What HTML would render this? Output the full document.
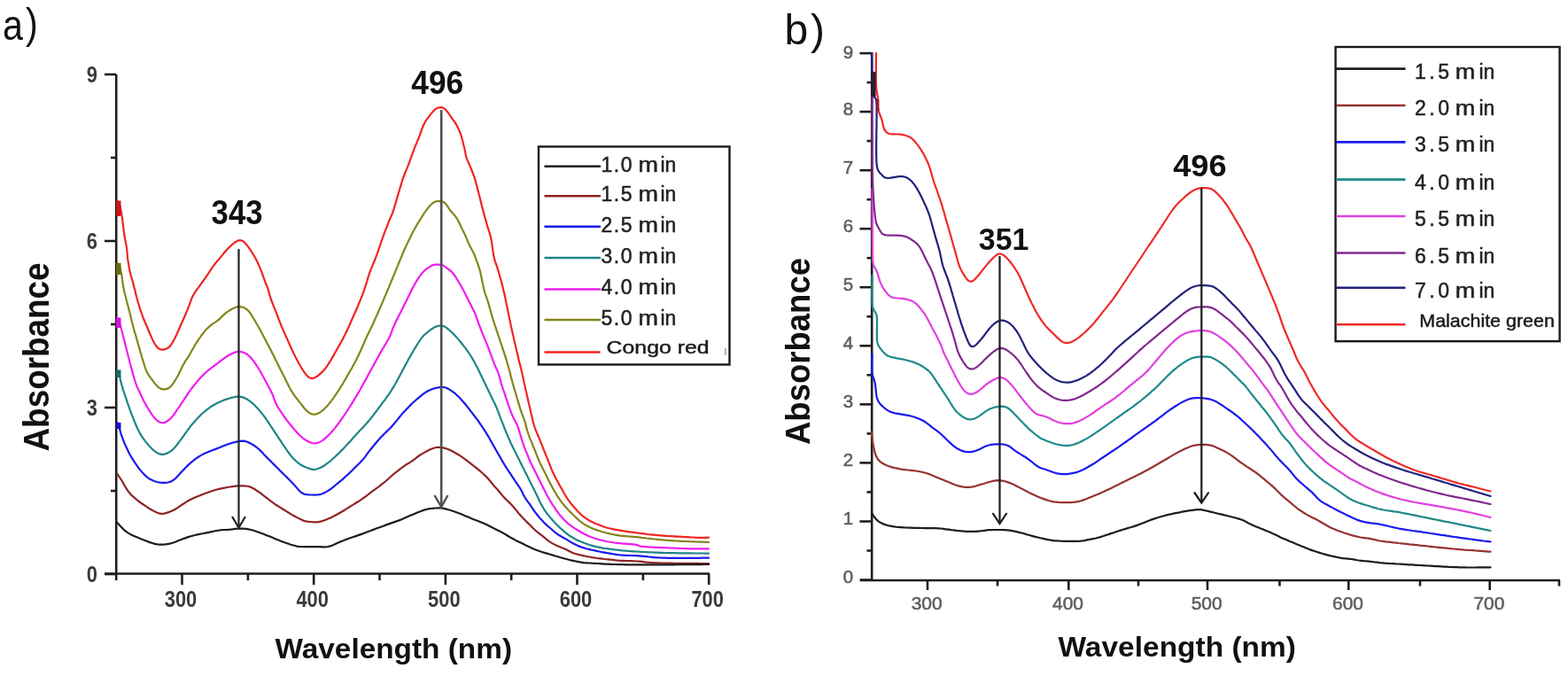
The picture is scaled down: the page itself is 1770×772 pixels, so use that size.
<!DOCTYPE html><html><head><meta charset="utf-8"><title>Absorbance spectra</title><style>
html,body{margin:0;padding:0;background:#fff;}body{width:1770px;height:772px;overflow:hidden;}svg{display:block;}
text{font-family:"Liberation Sans",Arial,sans-serif;}
</style></head><body>
<svg width="1770" height="772" viewBox="0 0 1770 772">
<rect width="1770" height="772" fill="#fff"/>
<text transform="translate(0 44.5) scale(0.86 1)" font-size="48" fill="#111"><tspan x="3.6">a</tspan><tspan x="33.8" dy="-1.5">)</tspan></text>
<g stroke="#1e1e1e" stroke-width="2.6" fill="none">
<path d="M131.2 84 V647.5"/>
<path d="M118 647.5 H801"/>
<path d="M118 648 H131.2"/>
<path d="M118 460 H131.2"/>
<path d="M118 272 H131.2"/>
<path d="M118 84 H131.2"/>
<path d="M125 554 H131.2"/>
<path d="M125 366 H131.2"/>
<path d="M125 178 H131.2"/>
<path d="M205.5 647.5 V660"/>
<path d="M354.2 647.5 V660"/>
<path d="M502.9 647.5 V660"/>
<path d="M651.5 647.5 V660"/>
<path d="M800.2 647.5 V660"/>
<path d="M131.2 647.5 V655"/>
<path d="M279.9 647.5 V655"/>
<path d="M428.5 647.5 V655"/>
<path d="M577.2 647.5 V655"/>
<path d="M725.9 647.5 V655"/>
</g>
<g font-size="25.5" font-weight="bold" fill="#3a3a3a">
<text transform="translate(110 656.8) scale(0.86 1)" text-anchor="end">0</text>
<text transform="translate(110 468.8) scale(0.86 1)" text-anchor="end">3</text>
<text transform="translate(110 280.8) scale(0.86 1)" text-anchor="end">6</text>
<text transform="translate(110 92.8) scale(0.86 1)" text-anchor="end">9</text>
<text transform="translate(204 684.5) scale(0.86 1)" text-anchor="middle">300</text>
<text transform="translate(352.7 684.5) scale(0.86 1)" text-anchor="middle">400</text>
<text transform="translate(501.4 684.5) scale(0.86 1)" text-anchor="middle">500</text>
<text transform="translate(650 684.5) scale(0.86 1)" text-anchor="middle">600</text>
<text transform="translate(798.7 684.5) scale(0.86 1)" text-anchor="middle">700</text>
</g>
<text transform="translate(55.2 509.5) rotate(-90)" font-size="40.5" font-weight="bold" fill="#111" textLength="213" lengthAdjust="spacingAndGlyphs">Absorbance</text>
<text x="310.5" y="742.5" font-size="30.5" font-weight="bold" fill="#111" textLength="267.5" lengthAdjust="spacingAndGlyphs">Wavelength (nm)</text>
<g fill="none" stroke-width="2.2" stroke-linejoin="round" stroke-linecap="round">
<path stroke="#8e2424" d="M132.5 535L134.2 537.5 135.9 540 137.5 542.5 139 545.1 140.5 547.7 142 550.3 143.6 552.8 145.3 555.3 147.2 557.6 149.3 559.7 151.6 561.7 153.9 563.6 156.2 565.5 158.7 567.3 161.1 569 163.6 570.7 166.1 572.4 168.6 574 171.2 575.5 173.8 576.9 176.5 578.3 179.3 579.3 182.2 579.8 185.2 579.6 188.1 578.9 190.9 577.9 193.7 576.8 196.4 575.5 199 574 201.5 572.4 204 570.7 206.5 569 209 567.4 211.5 565.7 214.1 564.3 216.8 562.9 219.5 561.7 222.3 560.5 225.1 559.4 227.9 558.3 230.7 557.2 233.5 556.2 236.3 555.2 239.2 554.2 242 553.3 244.9 552.5 247.8 551.8 250.8 551.2 253.7 550.6 256.7 550 259.6 549.5 262.6 549.1 265.6 548.7 268.6 548.4 271.6 548.3 274.6 548.3 277.5 548.5 280.5 549 283.3 549.9 286 551.2 288.5 552.8 291 554.5 293.5 556.2 295.9 558 298.2 559.9 300.6 561.7 303 563.5 305.4 565.4 307.8 567.2 310.2 568.9 312.8 570.5 315.3 572.1 317.9 573.7 320.4 575.3 323 576.9 325.5 578.5 328 580.1 330.6 581.6 333.3 583 335.9 584.4 338.6 585.8 341.3 587.1 344.1 588.1 347 588.7 350 589 353 589.2 356 589.3 359 589.2 361.9 588.6 364.8 587.8 367.6 586.7 370.4 585.6 373.1 584.4 375.8 583.1 378.5 581.7 381.1 580.3 383.8 578.8 386.3 577.3 388.9 575.7 391.4 574.1 394 572.5 396.5 570.9 399.1 569.4 401.6 567.8 404.2 566.2 406.7 564.6 409.2 562.9 411.6 561.2 414 559.4 416.4 557.5 418.8 555.7 421.2 553.9 423.6 552.1 426 550.3 428.5 548.6 430.8 546.7 433.2 544.9 435.5 543 437.7 541 440 539 442.2 537 444.5 535 446.8 533.1 449.2 531.3 451.6 529.4 454 527.7 456.4 525.9 458.9 524.2 461.5 522.6 464 521.1 466.5 519.4 468.9 517.6 471.2 515.7 473.6 514 476.2 512.4 478.8 510.9 481.4 509.4 484.1 508.1 486.8 506.8 489.6 505.7 492.5 505 495.5 504.8 498.5 505 501.4 505.6 504.2 506.5 507 507.6 509.7 508.8 512.4 510.3 515 511.8 517.6 513.3 520.1 514.9 522.6 516.6 525 518.3 527.4 520.1 529.8 522 532.2 523.8 534.5 525.6 536.9 527.5 539.3 529.3 541.6 531.3 543.8 533.3 546 535.3 548.2 537.4 550.3 539.5 552.3 541.7 554.2 544 556.1 546.4 557.9 548.7 559.7 550.5 561.5 552.4 563.4 554.7 565.3 557 567.2 559.4 569.2 561.6 571.3 563.7 573.5 565.8 575.6 567.9 577.7 570 579.7 572.3 581.6 574.6 583.5 576.9 585.4 579.2 587.4 581.5 589.4 583.8 591.5 585.9 593.6 588 595.7 590.1 597.9 592.3 600 594.4 602.1 596.5 604.3 598.5 606.6 600.5 609 602.3 611.3 604.2 613.7 606 616 607.9 618.3 609.8 620.8 611.6 623.3 613.1 626 614.6 628.7 615.9 631.4 617.1 634.2 618.2 637 619.3 639.7 620.5 642.4 621.9 645 623.3 647.8 624.5 650.6 625.3 653.5 626.1 656.5 626.7 659.4 627.4 662.3 628 665.3 628.5 668.2 629.1 671.2 629.5 674.2 630 677.2 630.3 680.1 630.6 683.1 631 686.1 631.3 689.1 631.6 692.1 631.9 695.1 632.3 698.1 632.6 701 632.8 704 632.9 707 633 710 633.1 713 633.2 716 633.3 719 633.5 722 633.7 725 633.9 728 634.3 731 634.6 734 634.9 737 635.1 740 635.3 743 635.4 746 635.5 749 635.6 752 635.7 755 635.7 758 635.7 761 635.8 764 635.8 767 635.8 770 635.8 773 635.9 776 635.9 779 635.9 782 635.9 785 635.9 788 635.9 791 636 794 636 797 636 800 636"/>
<path stroke="#1c1c1c" d="M131.5 589L133.6 591.2 135.6 593.4 137.6 595.6 139.7 597.8 142 599.7 144.4 601.4 147 602.9 149.7 604.2 152.5 605.4 155.2 606.6 158 607.8 160.8 608.9 163.6 610 166.4 611.1 169.2 612.1 172 613 174.9 613.9 177.9 614.5 180.8 614.7 183.8 614.6 186.8 614.3 189.8 613.9 192.7 613.3 195.6 612.5 198.4 611.5 201.2 610.3 204 609.2 206.8 608.1 209.6 607.1 212.4 606.1 215.3 605.3 218.2 604.5 221.1 603.8 224.1 603.1 227 602.5 230 602 232.9 601.4 235.8 600.8 238.8 600.2 241.7 599.5 244.7 599 247.6 598.5 250.6 598.2 253.6 598 256.6 597.9 259.6 597.7 262.6 597.4 265.5 596.9 268.5 596.6 271.5 596.5 274.5 596.7 277.5 596.9 280.5 597.4 283.4 598 286.3 598.8 289.1 599.7 292 600.7 294.8 601.8 297.6 602.8 300.4 603.9 303.2 605 306 606.1 308.8 607.2 311.5 608.4 314.3 609.5 317.1 610.7 319.9 611.8 322.7 612.8 325.6 613.8 328.4 614.7 331.3 615.5 334.2 616.3 337.1 616.8 340.1 617 343.1 617.1 346.1 617.2 349.1 617.2 352.1 617.2 355.1 617.2 358.1 617.2 361.1 617.2 364.1 617.3 367.1 617.3 370.1 617 373 616.4 375.8 615.3 378.5 614.1 381.3 612.8 384 611.6 386.8 610.4 389.6 609.3 392.4 608.2 395.2 607.2 398.1 606.3 400.9 605.4 403.8 604.4 406.6 603.4 409.4 602.4 412.2 601.3 415 600.2 417.8 599.2 420.6 598.1 423.4 597.1 426.2 596 429.1 595 431.9 594 434.7 592.9 437.5 591.9 440.4 590.9 443.2 589.9 446 588.9 448.9 587.9 451.7 586.9 454.4 585.7 457.2 584.5 459.9 583.3 462.7 582.1 465.4 580.9 468.2 579.8 471 578.6 473.8 577.5 476.6 576.4 479.4 575.4 482.3 574.7 485.2 574.1 488.2 573.8 491.2 573.5 494.2 573.3 497.2 573.4 500.2 573.7 503.1 574.4 506 575.2 508.9 576 511.7 577 514.6 578 517.4 579 520.2 580.1 522.9 581.2 525.7 582.4 528.5 583.6 531.2 584.8 534 585.9 536.8 587 539.6 588.1 542.4 589.2 545.2 590.3 547.9 591.5 550.6 592.8 553.3 594.2 556 595.6 558.7 596.9 561.3 598.2 564 599.6 566.7 601 569.3 602.4 571.9 604 574.4 605.5 577 607.1 579.7 608.5 582.3 609.9 585 611.2 587.7 612.5 590.4 613.8 593.1 615.2 595.8 616.5 598.5 617.8 601.2 619.1 604 620.2 606.8 621.3 609.6 622.3 612.5 623.2 615.4 624.1 618.2 624.9 621.1 625.8 624 626.6 626.9 627.5 629.8 628.3 632.6 629.2 635.5 630 638.4 630.8 641.3 631.5 644.2 632.3 647.2 632.9 650.1 633.5 653.1 634.1 656 634.6 659 635.1 662 635.3 665 635.5 668 635.7 671 635.8 674 636 676.9 636.2 679.9 636.4 682.9 636.6 685.9 636.7 688.9 636.8 691.9 636.9 694.9 637 697.9 637.1 700.9 637.2 703.9 637.2 706.9 637.3 709.9 637.3 712.9 637.4 715.9 637.4 719 637.4 722 637.4 725 637.4 728 637.4 731 637.4 734 637.4 737 637.4 740 637.4 743 637.4 746 637.3 749 637.3 752 637.3 755 637.3 758 637.3 761 637.3 764 637.2 767 637.2 770 637.2 773 637.2 776 637.2 779 637.1 782 637.1 785 637.1 788 637.1 791 637.1 794 637 797 637 800 637"/>
<path stroke="#1a1aee" d="M132.5 477L133.8 479.7 134.7 482.5 135.4 485.4 136.2 488.3 137.1 491.2 138.1 494 139.2 496.8 140.3 499.6 141.5 502.4 142.7 505.1 144 507.8 145.3 510.5 146.7 513.2 148.2 515.8 149.8 518.3 151.4 520.8 153.1 523.3 154.8 525.8 156.5 528.2 158.4 530.6 160.4 532.9 162.4 535 164.5 537.1 166.8 539.1 169.3 540.8 172 542.1 174.8 543.2 177.7 544 180.6 544.6 183.6 544.9 186.6 544.9 189.5 544.5 192.4 543.7 195 542.3 197.4 540.6 199.6 538.5 201.6 536.3 203.6 534 205.7 531.8 207.7 529.7 209.8 527.5 211.9 525.4 214.1 523.3 216.4 521.4 218.7 519.5 221.1 517.7 223.6 516 226.1 514.4 228.7 512.9 231.4 511.6 234.2 510.4 236.9 509.2 239.7 508.2 242.6 507.1 245.4 506.1 248.2 505 250.9 503.8 253.7 502.7 256.5 501.6 259.4 500.7 262.2 499.8 265.1 499.1 268.1 498.4 271 497.8 274 497.6 276.9 497.9 279.7 499 282.4 500.3 285 501.7 287.5 503.3 290 505.1 292.3 507 294.4 509.1 296.5 511.3 298.5 513.5 300.6 515.6 302.7 517.7 304.9 519.9 307 522 309.1 524.1 311.2 526.2 313.3 528.3 315.5 530.5 317.6 532.6 319.7 534.7 321.8 536.8 324 538.9 326.1 541 328.2 543.2 330.3 545.3 332.3 547.6 334.3 549.8 336.3 552.1 338.3 554.3 340.5 556.3 343.1 557.6 346 558.2 349 558.4 352 558.5 355 558.6 358 558.5 360.9 558.2 363.8 557.3 366.5 556.1 369.1 554.6 371.6 553 374.1 551.3 376.5 549.4 378.8 547.5 381.1 545.6 383.4 543.7 385.7 541.8 388 539.8 390.2 537.8 392.5 535.8 394.6 533.7 396.8 531.6 398.9 529.5 401 527.4 403.2 525.3 405.3 523.2 407.4 521.1 409.5 518.9 411.4 516.6 413.2 514.2 414.9 511.7 416.7 509.3 418.6 507 420.5 504.7 422.4 502.3 424.3 500 426.2 497.7 428.2 495.5 430.2 493.2 432.3 491.1 434.5 489 436.6 486.9 438.8 484.8 440.9 482.7 442.9 480.5 444.9 478.2 446.8 475.9 448.7 473.6 450.6 471.2 452.5 468.9 454.4 466.6 456.4 464.4 458.5 462.2 460.6 460.1 462.7 457.9 464.8 455.8 467 453.8 469.2 451.8 471.5 449.8 473.8 447.9 476.1 446 478.5 444.2 481 442.5 483.6 441 486.3 439.8 489.2 438.8 492 437.9 495 437.3 497.9 436.9 500.9 437 503.7 437.8 506.4 439.1 509 440.6 511.5 442.3 513.8 444.2 516 446.2 518.2 448.3 520.2 450.5 522.2 452.7 524.2 455 526.1 457.3 528 459.6 529.8 462 531.6 464.4 533.5 466.8 535.3 469.2 537.1 471.5 538.9 473.9 540.7 476.4 542.4 478.8 544.1 481.3 545.8 483.8 547.4 486.3 549 488.9 550.5 491.4 552.1 494 553.5 496.6 555 499.2 556.5 501.9 558 504.5 559.4 507.1 560.9 509.7 562.4 512.3 563.9 514.9 565.4 517.5 566.9 520.1 568.4 522.7 569.9 525.3 571.6 527.8 573.2 530.3 574.9 532.8 576.6 535.3 578.2 537.8 579.9 540.3 581.5 542.8 583.2 545.3 584.9 547.8 586.6 550.2 588.1 552.8 589.5 555.5 590.7 558.2 592.2 560.8 593.8 563.3 595.5 565.8 597.3 568.2 599 570.7 600.7 573.2 602.4 575.6 604.1 578.1 606 580.5 607.8 582.8 609.8 585.1 611.8 587.3 613.8 589.5 616 591.6 618.2 593.6 620.5 595.5 622.8 597.5 625 599.5 627.3 601.4 629.7 603.2 632.3 604.8 634.9 606.3 637.5 607.7 640.1 609.1 642.7 610.8 645.2 612.4 647.8 613.8 650.5 615.1 653.3 616.4 656 617.4 658.9 618.4 661.8 619.2 664.7 619.9 667.6 620.6 670.6 621.2 673.5 621.9 676.4 622.5 679.4 623.1 682.3 623.6 685.3 624.2 688.2 624.7 691.2 625.2 694.1 625.6 697.1 626.1 700.1 626.4 703.1 626.6 706.1 626.8 709.1 626.9 712.1 627 715.1 627.1 718.1 627.2 721.1 627.4 724.1 627.6 727.1 627.9 730 628.2 733 628.5 736 628.8 739 629.1 742 629.3 745 629.5 748 629.6 751 629.7 754 629.8 757 629.8 760 629.9 763 629.9 766 629.9 769 629.9 772 629.9 775 629.9 778 629.8 781 629.8 784 629.8 787 629.8 790 629.8 793 629.7 796 629.7 799 629.7 800 629.7"/>
<path stroke="#1f8585" d="M132.5 418L133.9 420.3 134.7 423.2 135.4 426.1 136 429 136.7 431.9 137.5 434.8 138.3 437.7 139.2 440.6 140.2 443.4 141.1 446.3 142.1 449.1 143.1 451.9 144 454.8 145 457.6 146 460.4 147 463.3 148.1 466.1 149.1 468.9 150.2 471.7 151.3 474.5 152.4 477.3 153.6 480 154.8 482.8 156.1 485.5 157.5 488.1 159 490.7 160.6 493.3 162.3 495.7 164.1 498.1 166 500.4 167.9 502.7 170 504.9 172.1 507.1 174.3 509 176.8 510.7 179.4 512.1 182.3 512.9 185.2 512.8 188 511.9 190.7 510.6 193.2 508.9 195.4 507 197.5 504.8 199.4 502.5 201.2 500.1 203 497.7 204.8 495.3 206.6 492.9 208.3 490.4 210.1 488 211.8 485.5 213.6 483.1 215.4 480.7 217.3 478.4 219.3 476.2 221.3 473.9 223.3 471.7 225.4 469.6 227.6 467.5 229.8 465.5 232.1 463.6 234.5 461.7 236.9 459.9 239.4 458.2 241.9 456.7 244.6 455.3 247.3 453.9 250 452.7 252.8 451.6 255.6 450.6 258.5 449.7 261.4 448.9 264.3 448.2 267.2 447.7 270.2 447.6 273.1 448.1 275.9 449.1 278.6 450.5 281.1 452.1 283.5 453.9 285.8 455.8 287.9 457.9 290 460.1 292 462.3 294 464.6 295.8 466.9 297.7 469.3 299.4 471.7 301.2 474.2 302.9 476.7 304.5 479.2 306.2 481.7 307.8 484.2 309.5 486.7 311.1 489.2 312.8 491.7 314.4 494.2 316.1 496.7 317.7 499.2 319.4 501.7 321.1 504.1 322.8 506.6 324.5 509.1 326.3 511.5 328.1 513.9 330 516.2 332 518.4 334.2 520.5 336.5 522.5 338.9 524.2 341.5 525.7 344.2 527 347 528.1 349.8 529.1 352.6 529.9 355.2 530 358 529.3 360.8 528.3 363.5 527 366.1 525.5 368.5 523.7 370.9 521.9 373.2 520 375.5 518 377.7 516 379.9 513.9 382.1 511.9 384.2 509.7 386.3 507.6 388.4 505.4 390.4 503.3 392.5 501.1 394.5 498.9 396.5 496.7 398.5 494.4 400.5 492.2 402.5 490 404.6 487.8 406.6 485.6 408.7 483.4 410.7 481.2 412.8 479 414.8 476.7 416.7 474.5 418.6 472.1 420.5 469.8 422.3 467.4 424.1 465 425.9 462.6 427.7 460.2 429.5 457.8 431.2 455.4 433.1 453 434.9 450.6 436.6 448.2 438.4 445.7 440.1 443.3 441.7 440.8 443.3 438.2 444.9 435.6 446.4 433 447.8 430.4 449.2 427.8 450.7 425.1 452.1 422.5 453.5 419.8 454.9 417.2 456.3 414.6 457.8 411.9 459.2 409.3 460.6 406.6 462 404 463.5 401.4 465 398.8 466.5 396.2 468 393.6 469.6 391 471.2 388.5 472.8 386 474.5 383.5 476.2 381.1 478.2 378.8 480.4 376.8 482.7 374.8 485 373 487.5 371.2 490 369.6 492.7 368.4 495.6 367.7 498.6 367.7 501.4 368.4 504 369.9 506.3 371.8 508.5 373.8 510.7 375.8 512.8 378 514.9 380.1 516.9 382.4 518.8 384.6 520.7 387 522.6 389.3 524.4 391.7 526.2 394.1 528 396.5 529.7 399 531.3 401.5 532.9 404.1 534.4 406.7 535.8 409.3 537.2 411.9 538.6 414.6 540 417.3 541.3 420 542.6 422.7 543.9 425.4 545.2 428.1 546.5 430.8 547.8 433.5 549.1 436.2 550.4 438.9 551.7 441.6 553 444.3 554.3 447 555.6 449.7 556.9 452.4 558.3 455.1 559.5 457.8 560.7 460.6 561.8 463.4 562.9 466.2 564 469 565 471.8 566.1 474.6 567.2 477.4 568.3 480.2 569.4 483 570.5 485.7 571.6 488.5 572.8 491.3 573.9 494 575.2 496.8 576.4 499.5 577.7 502.2 579 504.9 580.3 507.6 581.7 510.3 583 513 584.4 515.7 585.7 518.3 587 521 588.4 523.7 589.7 526.4 591.1 529.1 592.4 531.8 593.8 534.4 595.1 537.1 596.4 539.8 597.8 542.5 599.1 545.2 600.5 547.9 601.8 550.5 603.2 553.2 604.5 555.9 605.8 558.6 607.1 561.3 608.3 564.1 609.6 566.8 611 569.4 612.5 572 614 574.6 615.7 577.1 617.4 579.5 619.3 581.9 621.2 584.2 623.2 586.5 625.2 588.7 627.2 590.9 629.4 593 631.5 595.1 633.7 597.1 636 599.1 638.2 601.1 640.6 602.9 643 604.7 645.6 606.3 648.2 607.8 650.8 609.2 653.5 610.5 656.3 611.6 659.1 612.7 661.9 613.8 664.7 614.7 667.6 615.6 670.5 616.4 673.4 617.1 676.3 617.7 679.3 618.3 682.2 618.8 685.2 619.2 688.2 619.6 691.2 620 694.1 620.4 697.1 620.7 700.1 621.1 703.1 621.4 706.1 621.6 709.1 621.9 712 622.1 715 622.3 718 622.5 721 622.7 724 622.8 727 623 730 623.1 733 623.3 736 623.4 739 623.6 742 623.7 745 623.8 748 623.9 751 624 754 624.1 757 624.1 760 624.2 763 624.2 766 624.3 769 624.3 772 624.3 775 624.4 778 624.4 781 624.4 784 624.5 787 624.5 790 624.5 793 624.5 796 624.6 799 624.6 800 624.6"/>
<path stroke="#f01cf0" d="M132.5 359L134 361.5 135 364.3 135.8 367.2 136.6 370.1 137.4 373 138.2 375.9 138.9 378.8 139.7 381.7 140.4 384.6 141.1 387.5 141.8 390.4 142.6 393.4 143.3 396.3 144 399.2 144.8 402.1 145.5 405 146.3 407.9 147 410.8 147.8 413.7 148.6 416.6 149.4 419.5 150.1 422.4 151 425.3 151.8 428.2 152.7 431 153.7 433.9 154.8 436.7 156 439.4 157.3 442.1 158.6 444.8 159.8 447.5 161.2 450.2 162.5 452.9 163.9 455.6 165.4 458.2 166.9 460.7 168.5 463.3 170.1 465.8 171.8 468.3 173.6 470.7 175.6 473 177.8 475 180.3 476.5 183.1 477.2 186 476.8 188.6 475.5 191 473.7 193.2 471.7 195.2 469.4 196.9 467 198.6 464.5 200.3 462 202 459.6 203.7 457.1 205.3 454.6 207 452.1 208.6 449.6 210.3 447.1 211.9 444.6 213.6 442.1 215.3 439.6 217.2 437.2 219.1 434.9 221 432.6 222.9 430.3 224.9 428.1 226.9 425.8 229 423.6 231.1 421.5 233.3 419.5 235.6 417.6 238 415.7 240.4 413.9 242.8 412.1 245.2 410.4 247.6 408.5 250 406.7 252.4 404.9 254.8 403.2 257.3 401.5 259.9 400 262.6 398.8 265.4 397.6 268.3 397 271.2 397 274.2 397.6 276.9 398.7 279.5 400.2 281.7 402.2 283.7 404.4 285.6 406.7 287.4 409.2 289.1 411.6 290.7 414.2 292.3 416.7 293.8 419.3 295.3 421.9 296.8 424.5 298.2 427.2 299.6 429.8 301.1 432.4 302.5 435.1 303.9 437.7 305.3 440.4 306.6 443.1 307.8 445.8 308.9 448.6 309.9 451.4 311 454.2 312.3 457 313.7 459.6 315.3 462.1 317 464.6 318.7 467.1 320.4 469.6 322.1 472 323.9 474.4 325.7 476.8 327.6 479.2 329.5 481.5 331.4 483.8 333.4 486 335.4 488.3 337.4 490.5 339.6 492.5 341.9 494.5 344.3 496.2 346.9 497.7 349.6 499.1 352.4 500 355.3 500.4 358.3 500 361 498.9 363.6 497.4 366 495.6 368.3 493.6 370.5 491.6 372.6 489.4 374.6 487.2 376.6 484.9 378.5 482.6 380.3 480.3 382.1 477.9 383.9 475.4 385.6 473 387.3 470.5 389 468 390.7 465.5 392.3 463 394 460.5 395.6 458 397.2 455.4 398.7 452.9 400.3 450.3 401.8 447.8 403.4 445.2 404.9 442.6 406.4 440 407.8 437.4 409.3 434.7 410.8 432.1 412.2 429.5 413.7 426.9 415.1 424.2 416.5 421.6 418 419 419.4 416.3 420.9 413.7 422.3 411.1 423.8 408.4 425.2 405.8 426.7 403.2 428.1 400.6 429.6 397.9 431.1 395.3 432.6 392.8 434.1 390.2 435.7 387.6 437.2 385 438.6 382.4 440 379.7 441.2 377 442.2 374.1 443.2 371.3 444.4 368.5 445.6 365.8 446.9 363.1 448.2 360.4 449.5 357.7 450.9 355 452.3 352.4 453.6 349.7 455 347 456.3 344.3 457.7 341.6 459 339 460.3 336.3 461.6 333.6 462.9 330.9 464.2 328.2 465.6 325.5 467 322.9 468.5 320.2 470 317.6 471.6 315.1 473.2 312.6 475 310.1 476.9 307.8 478.9 305.7 481.2 303.7 483.7 302 486.2 300.4 488.9 299.1 491.7 298.6 494.7 298.7 497.7 298.8 500.4 299.6 502.8 301.3 505.2 303.1 507.6 304.9 509.9 306.9 511.9 309.1 513.6 311.5 515.2 314 516.8 316.6 518.3 319.2 519.8 321.8 521.3 324.4 522.8 327 524.2 329.7 525.5 332.3 526.8 335 528.2 337.7 529.5 340.4 530.9 343.1 532.3 345.7 533.6 348.4 535 351.1 536.2 353.8 537.3 356.6 538.3 359.4 539.3 362.3 540.3 365.1 541.4 367.9 542.4 370.7 543.5 373.5 544.5 376.3 545.7 379.1 546.9 381.9 548.1 384.6 549.3 387.4 550.4 390.2 551.4 393 552.5 395.8 553.5 398.6 554.5 401.4 555.6 404.2 556.6 407.1 557.7 409.9 558.8 412.6 560 415.4 561.3 418.1 562.4 420.9 563.3 423.7 564.1 426.6 564.9 429.5 565.7 432.4 566.6 435.3 567.5 438.1 568.5 441 569.5 443.8 570.4 446.6 571.4 449.5 572.3 452.3 573.3 455.2 574.2 458 575.2 460.9 576.3 463.7 577.4 466.5 578.5 469.2 579.8 472 581.2 474.6 582.6 477.2 584 479.9 585 482.7 585.9 485.6 586.7 488.5 587.6 491.3 588.4 494.2 589.3 497.1 590.2 500 591.2 502.8 592.3 505.6 593.4 508.4 594.5 511.1 595.6 513.9 596.7 516.7 597.9 519.5 599.1 522.2 600.4 525 601.7 527.6 603.1 530.3 604.4 533 605.8 535.7 607.1 538.4 608.4 541 609.8 543.7 611.1 546.4 612.5 549.1 613.8 551.8 615.2 554.5 616.5 557.1 617.9 559.8 619.4 562.4 620.9 565 622.5 567.6 624.1 570.1 625.8 572.6 627.4 575.1 629.2 577.5 630.9 579.9 632.8 582.3 634.8 584.5 636.9 586.7 639 588.8 641.2 590.8 643.6 592.7 646 594.4 648.5 596.1 651.1 597.7 653.6 599.2 656.2 600.8 658.8 602.3 661.5 603.6 664.2 604.9 667 606 669.8 607 672.7 608 675.5 608.8 678.4 609.6 681.3 610.3 684.3 611 687.2 611.5 690.2 612 693.1 612.5 696.1 612.8 699.1 613.1 702.1 613.4 705.1 613.6 708.1 613.9 711.1 614.1 714.1 614.3 717 614.6 719.5 615.1 720.9 616 723.1 616.7 726 616.9 729 617.1 732 617.3 735 617.5 738 617.6 741 617.8 744 617.9 747 618.1 750 618.2 753 618.3 756 618.5 759 618.6 762 618.7 765 618.8 768 619 771 619.1 774 619.2 777 619.3 780 619.3 783 619.4 786 619.4 789 619.4 792 619.4 795 619.4 798 619.4 800 619.4"/>
<path stroke="#85851c" d="M132.5 297L134.3 299.3 135.5 302 136.2 304.9 136.8 307.8 137.4 310.8 137.8 313.7 138.2 316.7 138.6 319.7 139.1 322.7 139.6 325.6 140.2 328.5 140.9 331.5 141.7 334.4 142.4 337.3 143.2 340.2 143.9 343.1 144.7 346 145.4 348.9 146.2 351.8 146.9 354.7 147.6 357.6 148.3 360.5 149 363.5 149.8 366.4 150.5 369.3 151.3 372.2 152.1 375.1 153 377.9 153.8 380.8 154.6 383.7 155.4 386.6 156.3 389.5 157.1 392.4 157.9 395.3 158.7 398.1 159.6 401 160.4 403.9 161.3 406.8 162.2 409.6 163.1 412.5 164 415.3 165.1 418.2 166.3 420.9 167.9 423.4 169.6 425.9 171.4 428.3 173.2 430.7 175 433.1 177 435.4 179.1 437.4 181.7 438.8 184.6 439.3 187.5 439.1 190.3 438.1 192.6 436.4 194.5 434.1 196.2 431.6 197.8 429.1 199.4 426.5 200.8 423.9 202.2 421.2 203.5 418.5 204.8 415.8 206.1 413.1 207.6 410.5 209.1 407.9 210.7 405.4 212.4 402.9 214 400.3 215.5 397.7 216.9 395.1 218.4 392.5 219.8 389.9 221.4 387.3 223 384.8 224.7 382.3 226.5 379.9 228.2 377.5 230.1 375.1 232 372.8 234.1 370.6 236.3 368.6 238.6 366.7 241.1 364.9 243.5 363.3 246 361.5 248.2 359.6 250.4 357.4 252.5 355.3 254.8 353.4 257.2 351.6 259.7 350 262.3 348.5 265 347.3 267.9 346.4 270.8 346.1 273.7 346.6 276.5 347.8 278.9 349.4 281 351.5 282.8 353.9 284.4 356.5 286 359 287.5 361.6 289 364.2 290.5 366.8 292 369.4 293.5 372 294.9 374.6 296.3 377.3 297.7 380 299.1 382.7 300.4 385.3 301.8 388 303.3 390.6 304.7 393.3 306.1 395.9 307.4 398.6 308.8 401.3 310.1 404 311.4 406.7 312.8 409.3 314.1 412 315.5 414.7 316.8 417.4 318.2 420.1 319.5 422.7 320.9 425.4 322.2 428.1 323.5 430.8 324.9 433.5 326.2 436.2 327.6 438.8 329.1 441.4 330.7 444 332.4 446.4 334.2 448.8 336.1 451.2 337.9 453.6 339.7 455.9 341.6 458.3 343.5 460.7 345.5 462.9 347.7 464.9 350.1 466.6 352.8 467.7 355.6 467.6 358.5 466.7 361.2 465.4 363.6 463.7 365.9 461.8 368 459.6 370 457.4 371.9 455.1 373.8 452.7 375.6 450.3 377.3 447.9 379 445.4 380.7 442.9 382.4 440.4 383.9 437.9 385.5 435.3 387.1 432.8 388.6 430.2 390.1 427.6 391.6 425 393.1 422.4 394.6 419.8 396.1 417.2 397.6 414.6 399 412 400.5 409.3 401.9 406.7 403.2 404 404.6 401.3 405.8 398.6 407.1 395.8 408.3 393.1 409.5 390.3 410.7 387.6 411.9 384.8 413.1 382.1 414.3 379.4 415.6 376.7 417 374 418.3 371.3 419.6 368.6 420.9 365.9 422.1 363.1 423.3 360.4 424.6 357.6 425.8 354.9 427 352.2 428.2 349.4 429.4 346.7 430.6 343.9 431.8 341.2 433 338.4 434.1 335.6 435.3 332.9 436.5 330.1 437.6 327.3 438.8 324.6 439.9 321.8 441.1 319 442.2 316.2 443.4 313.5 444.5 310.7 445.7 307.9 446.8 305.1 447.9 302.4 449.1 299.6 450.2 296.8 451.4 294 452.5 291.3 453.7 288.5 454.8 285.7 456 283 457.2 280.2 458.5 277.5 459.8 274.8 461.1 272.1 462.4 269.4 463.7 266.7 465 264 466.4 261.3 467.9 258.7 469.3 256.1 470.8 253.5 472.3 250.9 473.9 248.3 475.5 245.8 477.1 243.3 478.8 240.7 480.5 238.3 482.3 235.9 484.1 233.5 486.2 231.3 488.4 229.3 490.9 227.8 493.7 227.1 496.7 227 499.6 227.6 502.1 228.9 504 231.1 505.7 233.7 507.3 236.2 509.2 238.5 511.1 240.8 513.1 243 515 245.4 516.6 247.9 517.9 250.6 519.2 253.3 520.5 256 521.8 258.7 523.2 261.4 524.5 264.1 525.7 266.8 526.9 269.6 528 272.4 529.2 275.1 530.5 277.8 531.9 280.5 533.3 283.1 534.7 285.8 535.9 288.5 537 291.3 538 294.1 539 297 540 299.8 541 302.6 541.8 305.5 542.5 308.4 543.1 311.4 543.7 314.3 544.3 317.3 544.9 320.2 545.6 323.1 546.2 326.1 547 329 547.8 331.8 548.8 334.7 549.8 337.5 550.8 340.4 551.6 343.2 552.5 346.1 553.2 349 554 351.9 554.8 354.8 555.6 357.7 556.5 360.6 557.4 363.4 558.4 366.3 559.4 369.1 560.3 371.9 561.3 374.8 562.2 377.6 563.2 380.5 564.1 383.3 565 386.2 566 389 567 391.9 567.9 394.7 568.9 397.6 569.8 400.4 570.7 403.3 571.6 406.1 572.4 409 573.3 411.9 574.1 414.8 574.9 417.7 575.7 420.6 576.4 423.5 577.1 426.4 577.9 429.3 578.7 432.2 579.5 435.1 580.3 438 581.2 440.9 582 443.7 582.9 446.6 583.7 449.5 584.6 452.4 585.4 455.2 586.3 458.1 587.2 461 588.1 463.8 589.1 466.7 590.2 469.5 591.3 472.3 592.3 475.1 593.1 478 593.8 480.9 594.6 483.8 595.4 486.6 596.3 489.5 597.3 492.3 598.4 495.1 599.6 497.9 600.7 500.7 601.8 503.5 602.9 506.2 604.1 509 605.2 511.8 606.3 514.6 607.3 517.4 608.5 520.2 609.7 522.9 611.1 525.6 612.4 528.3 613.8 530.9 615.1 533.6 616.5 536.3 617.8 539 619.1 541.7 620.5 544.4 621.9 547 623.3 549.7 624.7 552.3 626.2 554.9 627.8 557.5 629.3 560.1 631 562.6 632.7 565 634.5 567.4 636.4 569.8 638.3 572.1 640.3 574.3 642.4 576.5 644.5 578.6 646.6 580.7 648.8 582.8 651 584.9 653.2 586.9 655.5 588.8 657.9 590.6 660.4 592.3 663 593.7 665.7 595.1 668.4 596.3 671.2 597.4 674 598.4 676.9 599.3 679.8 600.2 682.7 601 685.6 601.7 688.5 602.4 691.4 603 694.4 603.6 697.3 604.1 700.3 604.6 703.3 604.9 706.2 605.2 709.2 605.5 712.2 605.7 715.2 605.9 718.2 606.1 721.2 606.4 724.2 606.8 727.2 607.1 730.1 607.5 733.1 607.8 736.1 608.2 739.1 608.5 742.1 608.8 745.1 609.1 748 609.4 751 609.7 754 609.9 757 610.1 760 610.3 763 610.5 766 610.6 769 610.8 772 610.9 775 611 778 611.2 781 611.3 784 611.4 787 611.5 790 611.6 793 611.7 796 611.8 799 612 800 612"/>
<path stroke="#f02424" d="M132.5 227L134.2 229.5 135.3 232.2 136 235.1 136.6 238 137.2 241 137.6 244 138.1 246.9 138.4 249.9 138.8 252.9 139.2 255.9 139.5 258.8 139.9 261.8 140.3 264.8 140.8 267.8 141.3 270.7 141.9 273.7 142.5 276.6 143 279.6 143.3 282.5 143.6 285.5 143.8 288.5 144.1 291.5 144.5 294.5 145 297.4 145.5 300.4 146 303.4 146.6 306.3 147.3 309.2 148.1 312.1 149 315 149.8 317.9 150.6 320.8 151.3 323.7 152.1 326.6 152.8 329.5 153.5 332.4 154.2 335.3 155 338.2 155.8 341.1 156.7 344 157.5 346.9 158.4 349.7 159.4 352.6 160.4 355.4 161.4 358.2 162.6 361 163.7 363.8 164.9 366.5 166.1 369.3 167.3 372 168.4 374.8 169.6 377.6 170.8 380.3 172 383.1 173.4 385.7 174.9 388.3 176.5 390.8 178.5 393 181 394.3 183.9 394.7 186.8 394.1 189.4 392.8 191.7 390.9 193.5 388.5 195.1 386 196.5 383.4 197.9 380.7 199.2 378 200.4 375.2 201.6 372.5 202.8 369.7 204 367 205.2 364.2 206.5 361.5 207.7 358.8 208.9 356 210.1 353.3 211.3 350.5 212.4 347.7 213.5 344.9 214.4 342.1 215.4 339.3 216.5 336.5 217.8 333.8 219.3 331.2 221 328.7 222.7 326.2 224.5 323.8 226.2 321.4 228 318.9 229.7 316.5 231.5 314.1 233.2 311.6 234.9 309.1 236.6 306.6 238.2 304.1 239.9 301.6 241.6 299.2 243.5 296.8 245.4 294.5 247.4 292.2 249.3 289.9 251.2 287.6 253.1 285.3 255 283 257 280.7 259.1 278.6 261.3 276.6 263.7 274.7 266.1 272.9 268.7 271.6 271.5 271.2 274.2 272.1 276.4 274 278.4 276.3 280.2 278.7 281.9 281.2 283.6 283.6 285.2 286.2 286.8 288.7 288.3 291.3 289.7 294 291 296.7 292.2 299.4 293.4 302.2 294.5 304.9 295.6 307.7 296.6 310.6 297.6 313.4 298.6 316.2 299.6 319 300.8 321.7 301.9 324.4 302.8 327.2 303.6 330.1 304.4 333 305.3 335.9 306.2 338.7 307.3 341.5 308.4 344.3 309.5 347.1 310.6 349.9 311.8 352.6 312.9 355.4 313.9 358.3 314.9 361.1 316 363.9 317.1 366.7 318.3 369.4 319.5 372.2 320.7 374.9 321.9 377.7 323.2 380.4 324.4 383.1 325.6 385.9 326.8 388.7 328 391.4 329.2 394.1 330.5 396.8 331.9 399.5 333.2 402.2 334.6 404.9 336 407.5 337.4 410.2 338.9 412.8 340.4 415.4 342 417.9 343.7 420.4 345.5 422.8 347.5 425 349.9 426.6 352.7 427.1 355.4 426.3 357.9 424.8 360.3 422.9 362.6 420.9 364.7 418.8 366.7 416.6 368.5 414.2 370.2 411.7 371.8 409.2 373.4 406.6 374.9 404 376.4 401.4 377.8 398.8 379.3 396.2 380.8 393.6 382.3 391 383.8 388.4 385.2 385.8 386.7 383.1 388 380.5 389.4 377.8 390.7 375.1 392 372.4 393.3 369.7 394.5 366.9 395.7 364.2 396.9 361.4 398.1 358.7 399.3 355.9 400.6 353.2 401.8 350.5 403 347.7 404.2 344.9 405.3 342.2 406.5 339.4 407.6 336.6 408.7 333.8 409.7 331 410.8 328.2 411.8 325.4 412.7 322.5 413.6 319.6 414.5 316.8 415.3 313.9 416.2 311 417.1 308.2 418.1 305.4 419.3 302.6 420.4 299.8 421.6 297 422.8 294.3 423.9 291.5 424.9 288.7 426 285.8 426.9 283 427.9 280.2 428.9 277.3 429.9 274.5 430.8 271.7 431.8 268.8 432.8 266 433.8 263.2 434.9 260.4 436 257.6 437.1 254.8 438.2 252 439.3 249.2 440.4 246.4 441.7 243.7 442.9 241 443.9 238.2 444.8 235.3 445.6 232.4 446.5 229.5 447.3 226.7 448.1 223.8 449 220.9 449.8 218 450.7 215.1 451.5 212.3 452.4 209.4 453.3 206.5 454.2 203.7 455.1 200.8 456.2 198 457.3 195.2 458.4 192.4 459.6 189.6 460.7 186.9 461.8 184.1 462.8 181.2 463.8 178.4 464.8 175.6 465.8 172.8 466.9 169.9 467.9 167.1 469 164.4 470.2 161.6 471.3 158.8 472.5 156 473.6 153.2 474.6 150.4 475.6 147.6 476.6 144.8 477.7 142 479 139.3 480.5 136.7 482.2 134.2 483.9 131.8 485.8 129.4 487.7 127.1 489.7 124.8 491.9 122.9 494.5 121.6 497.4 121.1 500.2 121.6 502.6 123.3 504.5 125.5 506.3 127.9 508.1 130.4 509.8 132.8 511.5 135.3 513.3 137.7 514.9 140.3 516.3 142.9 517.6 145.6 518.8 148.3 519.9 151.1 520.8 154 521.6 156.9 522.4 159.8 523.1 162.7 523.8 165.6 524.5 168.5 525.2 171.5 525.7 174.4 526.4 177.3 527.3 180.1 528.5 182.9 529.8 185.6 531 188.4 532.1 191.2 533.2 193.9 534.3 196.8 535.3 199.6 536.2 202.4 537 205.3 537.8 208.2 538.6 211.1 539.3 214 540.1 216.9 540.8 219.8 541.6 222.8 542.3 225.7 543 228.6 543.7 231.5 544.5 234.4 545.2 237.3 546 240.2 546.8 243.1 547.6 246 548.4 248.9 549.2 251.8 550 254.7 550.9 257.5 551.8 260.4 552.7 263.2 553.6 266.1 554.3 269 554.8 272 555.3 275 555.7 277.9 556.1 280.9 556.5 283.9 557 286.8 557.5 289.8 558.2 292.7 559.1 295.6 560.1 298.4 561.1 301.2 562 304.1 562.9 307 563.7 309.8 564.5 312.7 565.3 315.6 566.1 318.5 566.8 321.4 567.6 324.3 568.3 327.3 569 330.2 569.7 333.1 570.3 336 570.9 339 571.5 341.9 572.1 344.9 572.7 347.8 573.3 350.7 573.9 353.7 574.5 356.6 575.1 359.6 575.7 362.5 576.3 365.4 576.9 368.4 577.6 371.3 578.3 374.2 578.9 377.2 579.6 380.1 580.2 383 580.9 385.9 581.6 388.9 582.2 391.8 582.9 394.7 583.6 397.6 584.3 400.6 585 403.5 585.7 406.4 586.4 409.3 587.2 412.2 587.9 415.1 588.6 418 589.3 421 589.9 423.9 590.6 426.8 591.2 429.8 591.8 432.7 592.5 435.6 593.1 438.6 593.8 441.5 594.5 444.4 595.1 447.3 595.8 450.3 596.4 453.2 597.1 456.1 597.8 459 598.5 462 599.1 464.9 599.8 467.8 600.5 470.7 601.2 473.7 601.9 476.6 602.7 479.5 603.6 482.3 604.6 485.1 605.8 487.9 607 490.7 608.1 493.4 609.3 496.2 610.4 499 611.5 501.8 612.6 504.6 613.7 507.4 614.8 510.2 615.9 512.9 617.1 515.7 618.2 518.5 619.3 521.3 620.4 524.1 621.5 526.9 622.6 529.7 623.8 532.4 625.1 535.1 626.4 537.8 627.8 540.5 629.2 543.1 630.7 545.8 632.1 548.4 633.6 551 635.1 553.6 636.5 556.2 638 558.8 639.6 561.4 641.2 563.9 643 566.3 644.9 568.7 646.8 571 648.8 573.2 650.8 575.5 652.8 577.7 654.9 579.8 657.1 581.8 659.5 583.7 661.9 585.4 664.5 587 667.1 588.5 669.8 589.8 672.5 591 675.3 592.1 678.1 593.2 680.9 594.3 683.8 595.2 686.7 596 689.6 596.7 692.5 597.3 695.5 597.8 698.4 598.3 701.4 598.8 704.3 599.4 707.3 599.8 710.3 600.3 713.2 600.7 716.2 601.1 719.2 601.5 722.2 601.9 725.2 602.2 728.1 602.6 731.1 603 734.1 603.3 737.1 603.6 740.1 603.9 743.1 604.2 746 604.4 749 604.6 752 604.8 755 605 758 605.2 761 605.4 764 605.6 767 605.7 770 605.9 773 606.1 776 606.2 779 606.4 782 606.5 785 606.7 788 606.8 791 606.8 794 606.8 797 606.8 800 606.7"/>
</g>
<rect x="131" y="226.5" width="5.5" height="17.5" fill="#c81818"/>
<rect x="131" y="297" width="5.5" height="13" fill="#6a6a14"/>
<rect x="131" y="358.5" width="5.5" height="11.5" fill="#d414d4"/>
<rect x="131" y="417.5" width="5.5" height="8.5" fill="#146c6c"/>
<rect x="131" y="477" width="5.5" height="7" fill="#1414c8"/>
<g stroke="#222" stroke-width="2.2" fill="none">
<path d="M269.5 281 V595.5"/>
<path d="M262 583 L269.5 595.5 L277 583"/>
<path d="M498.2 124 V572" stroke="#505050" stroke-width="2.6"/>
<path d="M490.5 559 L498.2 572 L505.5 559" stroke="#505050" stroke-width="2.4"/>
</g>
<g font-weight="bold" fill="#111">
<text x="238.6" y="252.6" font-size="38.5" textLength="58" lengthAdjust="spacingAndGlyphs">343</text>
<text x="464.3" y="105.7" font-size="37.5" textLength="59" lengthAdjust="spacingAndGlyphs">496</text>
</g>
<rect x="608" y="165.5" width="215.5" height="246" fill="#fff" stroke="#1a1a1a" stroke-width="2.4"/>
<g stroke-width="2.6">
<path d="M614.5 187.7 H678" stroke="#1c1c1c"/>
<path d="M614.5 221.3 H678" stroke="#8e2424"/>
<path d="M614.5 255.8 H678" stroke="#1a1aee"/>
<path d="M614.5 291 H678" stroke="#1f8585"/>
<path d="M614.5 326.5 H678" stroke="#f01cf0"/>
<path d="M614.5 361 H678" stroke="#85851c"/>
<path d="M614.5 397.5 H677.5" stroke="#f02424"/>
</g>
<g font-size="23" fill="#222" stroke="#222" stroke-width="0.5">
<text y="193.5"><tspan x="678.5" textLength="35" lengthAdjust="spacing">1.0</tspan> <tspan x="720.6" textLength="22.5" lengthAdjust="spacingAndGlyphs">m</tspan><tspan x="745.5">in</tspan></text>
<text y="227.1"><tspan x="678.5" textLength="35" lengthAdjust="spacing">1.5</tspan> <tspan x="720.6" textLength="22.5" lengthAdjust="spacingAndGlyphs">m</tspan><tspan x="745.5">in</tspan></text>
<text y="261.6"><tspan x="678.5" textLength="35" lengthAdjust="spacing">2.5</tspan> <tspan x="720.6" textLength="22.5" lengthAdjust="spacingAndGlyphs">m</tspan><tspan x="745.5">in</tspan></text>
<text y="296.8"><tspan x="678.5" textLength="35" lengthAdjust="spacing">3.0</tspan> <tspan x="720.6" textLength="22.5" lengthAdjust="spacingAndGlyphs">m</tspan><tspan x="745.5">in</tspan></text>
<text y="332.3"><tspan x="678.5" textLength="35" lengthAdjust="spacing">4.0</tspan> <tspan x="720.6" textLength="22.5" lengthAdjust="spacingAndGlyphs">m</tspan><tspan x="745.5">in</tspan></text>
<text y="366.8"><tspan x="678.5" textLength="35" lengthAdjust="spacing">5.0</tspan> <tspan x="720.6" textLength="22.5" lengthAdjust="spacingAndGlyphs">m</tspan><tspan x="745.5">in</tspan></text>
</g>
<text x="684.6" y="399" font-size="21" fill="#1a1a1a" stroke="#1a1a1a" stroke-width="0.45" textLength="116" lengthAdjust="spacingAndGlyphs">Congo red</text>
<path d="M818.8 393 V401" stroke="#8a96a8" stroke-width="1.3"/>
<text y="50.3" font-size="48" fill="#111"><tspan x="885.5">b</tspan><tspan x="915" dy="-0.5">)</tspan></text>
<g stroke="#1e1e1e" stroke-width="2.6" fill="none">
<path d="M984.2 59 V655"/>
<path d="M971 655 H1761"/>
<path d="M970.5 654.5 H984.2"/>
<path d="M970.5 588.5 H984.2"/>
<path d="M970.5 522.4 H984.2"/>
<path d="M970.5 456.4 H984.2"/>
<path d="M970.5 390.3 H984.2"/>
<path d="M970.5 324.2 H984.2"/>
<path d="M970.5 258.2 H984.2"/>
<path d="M970.5 192.2 H984.2"/>
<path d="M970.5 126.1 H984.2"/>
<path d="M970.5 60.1 H984.2"/>
<path d="M978.5 621.5 H984.2"/>
<path d="M978.5 555.4 H984.2"/>
<path d="M978.5 489.4 H984.2"/>
<path d="M978.5 423.3 H984.2"/>
<path d="M978.5 357.3 H984.2"/>
<path d="M978.5 291.2 H984.2"/>
<path d="M978.5 225.2 H984.2"/>
<path d="M978.5 159.1 H984.2"/>
<path d="M978.5 93.1 H984.2"/>
<path d="M1047 655 V666"/>
<path d="M1206.3 655 V666"/>
<path d="M1363 655 V666"/>
<path d="M1522.3 655 V666"/>
<path d="M1681.7 655 V666"/>
<path d="M1126 655 V661.5"/>
<path d="M1285 655 V661.5"/>
<path d="M1444.5 655 V661.5"/>
<path d="M1603 655 V661.5"/>
<path d="M1760 655 V661.5"/>
</g>
<g font-size="20.5" fill="#5e5e5e" stroke="#5e5e5e" stroke-width="0.55">
<text x="963.2" y="657.9" text-anchor="end">0</text>
<text x="963.2" y="591.9" text-anchor="end">1</text>
<text x="963.2" y="525.8" text-anchor="end">2</text>
<text x="963.2" y="459.8" text-anchor="end">3</text>
<text x="963.2" y="393.7" text-anchor="end">4</text>
<text x="963.2" y="327.6" text-anchor="end">5</text>
<text x="963.2" y="261.6" text-anchor="end">6</text>
<text x="963.2" y="195.6" text-anchor="end">7</text>
<text x="963.2" y="129.5" text-anchor="end">8</text>
<text x="963.2" y="65.9" text-anchor="end">9</text>
<text x="1046.2" y="688" text-anchor="middle" textLength="35" lengthAdjust="spacingAndGlyphs">300</text>
<text x="1205.5" y="688" text-anchor="middle" textLength="35" lengthAdjust="spacingAndGlyphs">400</text>
<text x="1362.2" y="688" text-anchor="middle" textLength="35" lengthAdjust="spacingAndGlyphs">500</text>
<text x="1521.5" y="688" text-anchor="middle" textLength="35" lengthAdjust="spacingAndGlyphs">600</text>
<text x="1680.9" y="688" text-anchor="middle" textLength="35" lengthAdjust="spacingAndGlyphs">700</text>
</g>
<text transform="translate(913.8 502) rotate(-90)" font-size="39.5" font-weight="bold" fill="#111" textLength="211" lengthAdjust="spacingAndGlyphs">Absorbance</text>
<text x="1194.5" y="740.5" font-size="30.5" font-weight="bold" fill="#111" textLength="268.5" lengthAdjust="spacingAndGlyphs">Wavelength (nm)</text>
<g fill="none" stroke-width="2.2" stroke-linejoin="round" stroke-linecap="round">
<path stroke="#1c1c1c" d="M984 578.8L985.5 581.3 987.2 583.8 989 586.1 991.2 588.1 993.7 589.8 996.4 591.1 999.2 592.1 1002 593 1005 593.6 1007.9 594.2 1010.9 594.6 1013.9 594.9 1016.9 595.1 1019.9 595.3 1022.9 595.5 1025.9 595.6 1028.9 595.7 1031.9 595.8 1034.9 595.9 1037.9 595.9 1040.9 596 1043.9 596.1 1046.9 596.1 1049.9 596.1 1052.9 596.2 1055.9 596.2 1058.9 596.3 1061.9 596.5 1064.9 596.9 1067.8 597.3 1070.8 597.7 1073.8 598.1 1076.8 598.4 1079.7 598.8 1082.7 599.1 1085.7 599.4 1088.7 599.7 1091.7 599.8 1094.7 599.9 1097.7 599.9 1100.7 599.8 1103.7 599.6 1106.7 599.4 1109.7 599 1112.6 598.6 1115.6 598.2 1118.6 598.1 1121.6 598 1124.6 598 1127.6 598 1130.6 598 1133.6 598.2 1136.6 598.4 1139.6 598.7 1142.6 599.1 1145.5 599.7 1148.4 600.4 1151.3 601.1 1154.2 601.8 1157.1 602.6 1160 603.5 1162.9 604.3 1165.8 605.1 1168.7 605.9 1171.6 606.5 1174.5 607.2 1177.5 607.9 1180.4 608.6 1183.3 609.2 1186.3 609.7 1189.3 610.1 1192.3 610.3 1195.2 610.5 1198.2 610.7 1201.2 610.8 1204.2 610.9 1207.2 610.9 1210.2 610.9 1213.3 610.9 1216.3 610.9 1219.2 610.7 1222.2 610.3 1225.2 609.8 1228.1 609.2 1231.1 608.7 1234 608.1 1236.9 607.5 1239.8 606.7 1242.7 605.9 1245.6 605 1248.4 604 1251.3 603.1 1254.1 602.1 1257 601.2 1259.8 600.3 1262.7 599.3 1265.6 598.4 1268.4 597.5 1271.3 596.6 1274.2 595.8 1277.1 595 1279.9 594.1 1282.8 593.1 1285.6 592.1 1288.4 591 1291.2 589.9 1294 588.8 1296.8 587.7 1299.6 586.6 1302.4 585.6 1305.3 584.7 1308.1 583.8 1311 583 1313.9 582.2 1316.8 581.4 1319.7 580.7 1322.7 580.1 1325.6 579.4 1328.5 578.8 1331.5 578.3 1334.4 577.7 1337.4 577.2 1340.4 576.7 1343.3 576.2 1346.3 575.8 1349.3 575.4 1352.2 575.2 1355.2 575.2 1358 575.6 1360.7 576.2 1363.5 576.9 1366.4 577.6 1369.3 578.3 1372.2 579 1375.2 579.7 1378.1 580.4 1381 581.1 1383.9 581.8 1386.8 582.5 1389.7 583.3 1392.7 584 1395.6 584.8 1398.4 585.6 1401.3 586.5 1404.1 587.6 1406.7 589 1409.3 590.5 1412 591.8 1414.7 593 1417.5 594.2 1420.3 595.3 1423.1 596.4 1425.9 597.5 1428.6 598.7 1431.4 599.8 1434.2 601 1436.9 602.2 1439.6 603.5 1442.3 604.8 1445 606.2 1447.7 607.4 1450.5 608.6 1453.2 609.8 1456 611 1458.8 612.1 1461.5 613.3 1464.3 614.4 1467.1 615.6 1469.9 616.7 1472.7 617.8 1475.4 619 1478.2 620.1 1481 621.1 1483.9 622 1486.8 623 1489.6 623.9 1492.5 624.8 1495.4 625.6 1498.3 626.4 1501.2 627.1 1504.1 627.8 1507 628.4 1510 629 1512.9 629.6 1515.9 630.1 1518.9 630.4 1521.9 630.7 1524.8 631 1527.8 631.4 1530.7 632 1533.7 632.5 1536.7 632.8 1539.7 633.1 1542.7 633.3 1545.6 633.6 1548.6 634 1551.6 634.4 1554.6 634.7 1557.6 635.1 1560.5 635.3 1563.5 635.6 1566.5 635.8 1569.5 636 1572.5 636.2 1575.5 636.4 1578.5 636.5 1581.5 636.7 1584.5 636.9 1587.5 637.1 1590.5 637.3 1593.5 637.4 1596.5 637.6 1599.5 637.8 1602.5 638 1605.5 638.1 1608.5 638.3 1611.5 638.5 1614.5 638.7 1617.5 638.9 1620.5 639.1 1623.5 639.2 1626.5 639.4 1629.5 639.6 1632.5 639.7 1635.5 639.9 1638.5 640 1641.5 640.1 1644.5 640.2 1647.5 640.3 1650.5 640.4 1653.5 640.4 1656.5 640.5 1659.5 640.5 1662.5 640.5 1665.5 640.5 1668.5 640.4 1671.5 640.4 1674.5 640.4 1677.5 640.3 1680.5 640.3 1682.5 640.3"/>
<path stroke="#963232" d="M983.8 487.5L984.1 490.5 984.5 493.5 984.9 496.4 985.3 499.4 985.8 502.4 986.4 505.3 987 508.3 987.7 511.2 988.6 514 989.9 516.7 991.6 519.1 993.7 521.1 996.1 522.8 998.8 524.3 1001.5 525.5 1004.3 526.5 1007.2 527.4 1010.1 528.1 1013 528.7 1016 529.3 1018.9 529.8 1021.9 530.2 1024.9 530.5 1027.9 530.8 1030.9 531.1 1033.8 531.5 1036.8 532 1039.7 532.5 1042.7 533.2 1045.6 534 1048.4 535 1051.2 536.1 1054 537.3 1056.7 538.4 1059.5 539.5 1062.3 540.7 1065.1 541.8 1067.9 542.9 1070.6 544 1073.4 545.2 1076.2 546.4 1078.9 547.5 1081.8 548.4 1084.7 549.1 1087.7 549.6 1090.6 549.9 1093.6 549.9 1096.6 549.6 1099.5 549.1 1102.4 548.3 1105.3 547.4 1108.2 546.5 1111 545.7 1113.9 544.8 1116.8 544 1119.7 543.2 1122.6 542.6 1125.6 542.2 1128.6 542.3 1131.5 542.6 1134.4 543.3 1137.3 544.1 1140.1 545.1 1142.9 546.3 1145.6 547.6 1148.3 549 1150.9 550.4 1153.6 551.8 1156.3 553.1 1158.9 554.5 1161.6 555.9 1164.3 557.2 1167 558.5 1169.7 559.8 1172.5 561 1175.2 562.1 1178.1 563.1 1180.9 564.1 1183.8 565 1186.6 565.8 1189.6 566.4 1192.6 566.7 1195.6 567 1198.6 567.1 1201.6 567.2 1204.6 567.2 1207.6 567.2 1210.5 567 1213.5 566.7 1216.5 566.2 1219.4 565.5 1222.2 564.6 1225.1 563.5 1227.8 562.4 1230.6 561.3 1233.4 560.2 1236.2 559 1239 557.9 1241.7 556.7 1244.5 555.5 1247.2 554.2 1249.9 553 1252.7 551.7 1255.4 550.4 1258.1 549.1 1260.7 547.8 1263.4 546.4 1266.1 545.1 1268.8 543.7 1271.5 542.4 1274.2 541 1276.9 539.7 1279.6 538.4 1282.3 537.1 1284.9 535.7 1287.6 534.4 1290.3 533 1293 531.6 1295.6 530.2 1298.2 528.8 1300.9 527.3 1303.5 525.8 1306.1 524.3 1308.6 522.8 1311.2 521.2 1313.8 519.7 1316.4 518.2 1319 516.7 1321.6 515.1 1324.2 513.6 1326.8 512.1 1329.4 510.6 1332 509.2 1334.7 507.9 1337.4 506.6 1340.2 505.4 1343 504.3 1345.8 503.3 1348.7 502.6 1351.6 502.1 1354.6 501.8 1357.6 501.8 1360.6 501.9 1363.6 502.2 1366.5 502.6 1369.3 503.3 1371.9 504.4 1374.6 505.7 1377.3 507 1380 508.3 1382.7 509.6 1385.3 511.1 1387.9 512.6 1390.4 514.3 1392.8 516 1395.2 517.9 1397.5 519.7 1399.9 521.5 1402.4 523.2 1404.9 524.9 1407.4 526.6 1409.9 528.2 1412.4 529.8 1414.9 531.5 1417.4 533.2 1419.8 535 1422.2 536.8 1424.5 538.8 1426.8 540.7 1429.1 542.6 1431.4 544.5 1433.7 546.4 1436 548.4 1438.2 550.4 1440.3 552.5 1442.5 554.7 1444.6 556.8 1446.7 558.9 1449 560.9 1451.3 562.8 1453.6 564.7 1455.9 566.6 1458.2 568.6 1460.5 570.5 1462.8 572.4 1465.1 574.3 1467.6 576 1470.1 577.7 1472.6 579.3 1475.2 580.9 1477.8 582.3 1480.5 583.7 1483.2 585 1485.9 586.3 1488.5 587.7 1491.1 589.2 1493.7 590.7 1496.3 592.3 1498.9 593.8 1501.5 595.2 1504.3 596.4 1507 597.6 1509.8 598.7 1512.6 599.8 1515.5 600.8 1518.3 601.7 1521.2 602.6 1524 603.5 1526.9 604.4 1529.8 605.1 1532.7 605.8 1535.7 606.5 1538.6 606.9 1541.6 607.3 1544.6 607.7 1547.5 608.2 1550.4 608.8 1553.1 609.4 1555.6 610 1558.1 610.5 1561 610.9 1564 611.3 1566.9 611.6 1569.9 611.9 1572.9 612.3 1575.9 612.6 1578.9 613 1581.9 613.3 1584.9 613.6 1587.8 613.9 1590.8 614.3 1593.8 614.6 1596.8 614.9 1599.8 615.2 1602.8 615.6 1605.7 615.9 1608.7 616.2 1611.7 616.5 1614.7 616.8 1617.7 617.2 1620.7 617.5 1623.7 617.8 1626.6 618.1 1629.6 618.4 1632.6 618.7 1635.6 619 1638.6 619.3 1641.6 619.5 1644.6 619.8 1647.6 620.1 1650.6 620.3 1653.6 620.6 1656.5 620.8 1659.5 621 1662.5 621.2 1665.5 621.5 1668.5 621.7 1671.5 621.9 1674.5 622.1 1677.5 622.3 1680.5 622.6 1682.5 622.7"/>
<path stroke="#1a1af0" d="M984.5 400L984.5 403 984.4 406 984.3 409 984.3 412 984.3 415 984.3 418 984.5 421 985.1 423.9 986 426.6 987 429.4 987.7 432.3 988.1 435.2 988.5 438.2 988.8 441.2 989.1 444.2 989.5 447.2 990.2 450 991.4 452.8 993 455.2 995 457.4 997.2 459.5 999.5 461.4 1001.9 463.1 1004.5 464.5 1007.3 465.6 1010.2 466.3 1013.1 466.8 1016.1 467.3 1019.1 467.8 1022 468.3 1025 468.9 1027.9 469.5 1030.8 470.3 1033.6 471.2 1036.4 472.3 1039.2 473.5 1041.9 474.8 1044.4 476.3 1046.9 478.1 1049.3 479.9 1051.6 481.8 1054 483.6 1056.4 485.3 1058.8 487.1 1061.2 489 1063.4 491 1065.6 493.1 1067.7 495.2 1069.8 497.3 1072 499.4 1074.2 501.4 1076.5 503.3 1078.9 505.1 1081.4 506.7 1084.1 508.1 1086.9 509.1 1089.8 509.9 1092.7 510.2 1095.7 510.1 1098.6 509.6 1101.4 508.7 1104.2 507.7 1107 506.4 1109.6 505.1 1112.3 503.7 1115.1 502.7 1118 502 1121 501.6 1123.9 501.4 1126.9 501.3 1129.9 501.3 1132.9 501.5 1135.8 502.2 1138.5 503.3 1141 504.9 1143.4 506.8 1145.7 508.6 1148.2 510.3 1150.7 511.9 1153.3 513.4 1155.9 515 1158.4 516.5 1160.9 518.3 1163.3 520.1 1165.6 522 1167.9 523.9 1170.2 525.7 1172.8 527.3 1175.5 528.5 1178.3 529.3 1181.2 530.2 1184 531.2 1186.8 532.3 1189.6 533.3 1192.5 534.1 1195.4 534.7 1198.4 535.1 1201.4 535.2 1204.4 535.1 1207.3 534.7 1210.3 534.2 1213.2 533.6 1216.1 532.7 1218.9 531.7 1221.7 530.5 1224.4 529.2 1227 527.8 1229.6 526.3 1232.2 524.8 1234.8 523.2 1237.3 521.6 1239.8 519.9 1242.2 518.2 1244.7 516.5 1247.2 514.8 1249.7 513.2 1252.2 511.5 1254.7 509.8 1257.2 508.2 1259.7 506.5 1262.2 504.9 1264.7 503.2 1267.1 501.4 1269.6 499.7 1272 498 1274.5 496.2 1276.9 494.5 1279.3 492.7 1281.7 490.9 1284.2 489.2 1286.6 487.4 1289.1 485.7 1291.5 484 1294 482.2 1296.4 480.5 1298.9 478.8 1301.3 477 1303.8 475.3 1306.2 473.5 1308.6 471.7 1311 469.9 1313.3 468.1 1315.7 466.2 1318.1 464.4 1320.6 462.7 1323 461 1325.5 459.3 1328.1 457.7 1330.6 456.1 1333.2 454.6 1335.8 453.2 1338.5 451.9 1341.3 450.8 1344.2 449.9 1347.1 449.4 1350.1 449.1 1353.1 449.1 1356.1 449.2 1359.1 449.5 1362 449.9 1365 450.4 1367.9 451.2 1370.6 452.3 1373.3 453.6 1375.9 455.1 1378.4 456.7 1380.9 458.4 1383.4 460.1 1385.9 461.8 1388.4 463.5 1390.8 465.2 1393.2 467 1395.6 468.8 1397.9 470.7 1400.2 472.7 1402.4 474.7 1404.6 476.7 1406.8 478.8 1409 480.8 1411.2 482.9 1413.3 485 1415.5 487.1 1417.6 489.2 1419.7 491.4 1421.8 493.5 1423.8 495.7 1425.9 497.9 1427.9 500.1 1429.9 502.3 1431.9 504.6 1433.9 506.8 1435.9 509.1 1437.8 511.4 1439.6 513.8 1441.6 516 1443.6 518.2 1445.7 520.4 1447.8 522.5 1449.9 524.7 1452 526.8 1454.1 529 1456.1 531.2 1458 533.5 1459.9 535.9 1461.8 538.2 1463.8 540.4 1465.9 542.5 1468.1 544.6 1470.4 546.5 1472.6 548.5 1474.9 550.4 1477.2 552.4 1479.5 554.3 1481.7 556.4 1483.8 558.5 1485.8 560.8 1487.8 563 1490 564.9 1492.5 566.6 1495.1 568.1 1497.7 569.5 1500.3 571 1503 572.4 1505.6 573.9 1508.2 575.3 1510.9 576.7 1513.6 578 1516.3 579.3 1519 580.7 1521.7 582 1524.4 583.3 1527.1 584.6 1529.8 585.8 1532.6 586.9 1535.4 587.9 1538.3 588.7 1541.3 589.3 1544.2 589.8 1547.2 590.3 1550.1 590.6 1553.1 591 1556.1 591.4 1559 592 1562 592.6 1564.9 593.3 1567.8 594 1570.7 594.7 1573.7 595.4 1576.6 596 1579.5 596.6 1582.5 597.1 1585.5 597.6 1588.4 598.1 1591.4 598.5 1594.4 599 1597.3 599.4 1600.3 599.8 1603.3 600.2 1606.2 600.7 1609.2 601.1 1612.2 601.5 1615.1 602 1618.1 602.4 1621.1 602.9 1624 603.3 1627 603.8 1630 604.2 1632.9 604.7 1635.9 605.1 1638.9 605.6 1641.9 606 1644.8 606.4 1647.8 606.9 1650.8 607.3 1653.7 607.7 1656.7 608.1 1659.7 608.5 1662.7 608.9 1665.6 609.3 1668.6 609.7 1671.6 610.1 1674.6 610.5 1677.5 610.8 1680.5 611.2 1682.5 611.5"/>
<path stroke="#1f8a8a" d="M984.5 311L984.5 314 984.5 317 984.4 320 984.4 323 984.4 326 984.4 329 984.4 332 984.4 335 984.4 338 984.5 341 984.6 344 985.1 346.9 986.2 349.5 987.7 351.9 989 354.4 989.8 357.2 990 360.1 990.1 363.1 990 366.1 990 369.1 989.9 372.1 989.9 375.1 989.8 378.1 989.9 381.1 990 384.1 990.5 387 991.5 389.8 993 392.3 994.8 394.6 996.7 396.9 998.8 399.1 1001.1 400.9 1003.7 402.2 1006.6 403.1 1009.5 403.7 1012.4 404.3 1015.4 404.8 1018.3 405.4 1021.3 406 1024.2 406.7 1027.1 407.5 1029.9 408.4 1032.8 409.4 1035.5 410.5 1038.3 411.8 1040.9 413.2 1043.3 414.9 1045.7 416.7 1048.1 418.5 1050.2 420.5 1052 422.9 1053.7 425.3 1055.4 427.9 1057 430.4 1058.6 432.9 1060.3 435.4 1061.9 437.9 1063.6 440.4 1065.3 442.9 1066.9 445.4 1068.6 447.9 1070.2 450.4 1071.8 452.9 1073.4 455.5 1074.9 458.1 1076.6 460.6 1078.4 463 1080.4 465.2 1082.6 467.2 1084.9 469.1 1087.4 470.8 1090 472.2 1092.8 473.1 1095.6 473.4 1098.5 473 1101.3 471.9 1103.9 470.5 1106.4 468.9 1108.8 467.1 1111.2 465.3 1113.6 463.6 1116.2 462.1 1119 461 1121.8 460 1124.7 459.3 1127.7 458.8 1130.6 458.6 1133.5 458.9 1136.3 459.8 1138.8 461.2 1141.1 463.1 1143.2 465.2 1145.3 467.4 1147.3 469.6 1149.4 471.8 1151.5 474 1153.6 476.1 1155.7 478.3 1157.8 480.4 1159.9 482.5 1162.1 484.6 1164.3 486.6 1166.6 488.5 1168.9 490.4 1171.3 492.2 1173.7 494 1176.3 495.5 1179 496.6 1181.8 497.7 1184.6 498.7 1187.5 499.8 1190.3 500.7 1193.2 501.5 1196.1 502.2 1199.1 502.7 1202 502.9 1205 502.9 1208 502.6 1210.9 502 1213.8 501.1 1216.6 500.1 1219.3 498.9 1222 497.5 1224.7 496.1 1227.3 494.6 1229.8 493.1 1232.4 491.5 1234.9 489.9 1237.4 488.2 1239.9 486.5 1242.3 484.8 1244.8 483.1 1247.3 481.4 1249.7 479.7 1252.2 477.9 1254.6 476.2 1257.1 474.4 1259.5 472.7 1261.9 471 1264.4 469.2 1266.8 467.5 1269.3 465.7 1271.7 464 1274.2 462.3 1276.6 460.6 1279.1 458.8 1281.5 457 1283.9 455.2 1286.3 453.4 1288.6 451.5 1290.9 449.6 1293.2 447.7 1295.5 445.8 1297.8 443.8 1300 441.8 1302.3 439.8 1304.5 437.8 1306.7 435.7 1308.8 433.6 1310.9 431.5 1313 429.3 1315.1 427.2 1317.2 425 1319.3 422.9 1321.5 420.9 1323.7 418.9 1326 416.9 1328.4 415 1330.7 413.2 1333.1 411.4 1335.6 409.7 1338.1 408.1 1340.7 406.5 1343.4 405.2 1346.1 404.1 1349 403.3 1352 402.8 1354.9 402.6 1357.9 402.6 1360.9 402.6 1363.8 402.6 1366.5 403.1 1369.2 404.2 1371.8 405.6 1374.4 407.1 1376.9 408.8 1379.4 410.5 1381.8 412.3 1384.1 414.2 1386.3 416.2 1388.5 418.3 1390.6 420.4 1392.7 422.5 1394.8 424.6 1396.9 426.8 1399 428.9 1401.2 431 1403.3 433.1 1405.4 435.3 1407.3 437.6 1409.1 439.9 1410.9 442.3 1412.7 444.7 1414.6 447 1416.5 449.3 1418.3 451.7 1420.2 454 1422.1 456.3 1424 458.7 1425.9 461 1427.8 463.3 1429.7 465.7 1431.5 468.1 1433.3 470.5 1435 472.9 1436.8 475.3 1438.5 477.8 1440.2 480.3 1441.9 482.7 1443.5 485.3 1445.2 487.7 1447 490.2 1448.9 492.5 1450.9 494.7 1452.9 496.9 1454.9 499.1 1456.8 501.5 1458.5 503.9 1460.3 506.4 1462 508.8 1463.7 511.3 1465.5 513.7 1467.3 516.1 1469.1 518.5 1470.9 520.8 1472.9 523.1 1474.9 525.4 1476.9 527.5 1479.1 529.6 1481.3 531.7 1483.5 533.7 1485.7 535.8 1487.9 537.7 1490.2 539.7 1492.6 541.5 1495 543.3 1497.5 545 1500 546.6 1502.5 548.3 1505 550 1507.4 551.7 1509.9 553.4 1512.3 555.2 1514.8 556.9 1517.2 558.6 1519.7 560.3 1522.2 562 1524.8 563.6 1527.4 564.9 1530.2 566.1 1533 567.2 1535.8 568.1 1538.7 569.1 1541.5 570 1544.4 570.8 1547.3 571.7 1550.1 572.6 1553 573.4 1555.9 574.2 1558.8 574.9 1561.8 575.5 1564.7 576 1567.7 576.4 1570.7 576.8 1573.6 577.3 1576.6 577.7 1579.6 578.2 1582.5 578.8 1585.5 579.3 1588.4 579.9 1591.3 580.5 1594.3 581.1 1597.2 581.7 1600.2 582.3 1603.1 582.9 1606 583.5 1609 584.1 1611.9 584.7 1614.9 585.3 1617.8 585.9 1620.7 586.5 1623.7 587.1 1626.6 587.7 1629.6 588.3 1632.5 588.8 1635.5 589.4 1638.4 590 1641.3 590.6 1644.3 591.2 1647.2 591.8 1650.2 592.4 1653.1 593 1656 593.6 1659 594.2 1661.9 594.8 1664.9 595.4 1667.8 596 1670.7 596.6 1673.7 597.2 1676.6 597.8 1679.6 598.4 1682.5 599"/>
<path stroke="#e040e0" d="M984.5 213L984.5 216 984.5 219 984.6 222 984.6 225 984.6 228 984.6 231 984.7 234 984.7 237 984.7 240 984.7 243 984.7 246 984.8 249 984.8 252 984.8 255 984.8 258 984.9 261 984.9 264 984.9 267 984.9 270 985 273 985 276 985 279 985 282 985.1 285 985.1 288 985.1 291 985.2 294 985.5 297 986.2 299.7 987.5 302.1 988.9 304.5 990.1 307.2 991 310 991.8 312.9 992.7 315.7 993.7 318.6 994.9 321.3 996.3 324 997.9 326.5 999.6 328.9 1001.5 331.2 1003.5 333.4 1005.8 335.1 1008.5 336 1011.4 336.4 1014.4 336.5 1017.4 336.8 1020.4 337.2 1023.3 337.8 1026.2 338.6 1029 339.5 1031.6 340.9 1034 342.6 1036.1 344.7 1038.1 347 1040 349.3 1041.8 351.7 1043.5 354.2 1045.2 356.7 1046.7 359.3 1048.1 361.9 1049.4 364.6 1050.8 367.3 1052.2 369.9 1053.6 372.5 1055.1 375.2 1056.5 377.8 1057.8 380.5 1059.2 383.2 1060.5 385.9 1061.8 388.6 1062.9 391.4 1063.9 394.2 1064.9 397 1066.1 399.8 1067.4 402.5 1068.8 405.1 1070.1 407.8 1071.5 410.5 1072.8 413.2 1074.1 415.9 1075.5 418.6 1076.8 421.2 1078.1 423.9 1079.5 426.6 1080.9 429.2 1082.4 431.9 1083.9 434.5 1085.5 437 1087.2 439.4 1089.2 441.7 1091.4 443.5 1094 444.7 1096.8 444.9 1099.6 444.1 1102.2 442.8 1104.7 441.2 1107.1 439.4 1109.3 437.4 1111.5 435.4 1113.8 433.5 1116.3 431.8 1118.8 430.2 1121.4 428.7 1124.1 427.4 1126.9 426.4 1129.8 426 1132.5 426.6 1135 427.9 1137.3 429.8 1139.4 432 1141.5 434.2 1143.4 436.4 1145.3 438.8 1147.1 441.2 1148.9 443.6 1150.7 445.9 1152.6 448.3 1154.4 450.7 1156.3 453 1158.2 455.3 1160.1 457.6 1162.1 459.9 1164.1 462.1 1166.2 464.2 1168.5 466.1 1171 467.6 1173.8 468.6 1176.7 469.2 1179.6 469.9 1182.4 471 1185.1 472.3 1187.7 473.7 1190.4 475 1193.2 476.1 1196.1 477 1199 477.6 1202 478.1 1204.9 478.2 1207.9 478.1 1210.9 477.6 1213.8 476.9 1216.6 475.9 1219.3 474.7 1222 473.4 1224.6 471.9 1227.2 470.4 1229.8 468.9 1232.3 467.2 1234.8 465.5 1237.2 463.7 1239.6 462 1242.1 460.3 1244.6 458.6 1247.1 456.9 1249.6 455.3 1252.1 453.7 1254.6 452 1257.1 450.3 1259.5 448.6 1261.9 446.7 1264.3 444.9 1266.6 443 1268.9 441 1271.1 439.1 1273.4 437.1 1275.7 435.2 1278 433.3 1280.4 431.4 1282.7 429.5 1285.1 427.7 1287.4 425.8 1289.7 423.8 1291.9 421.8 1294.1 419.7 1296.2 417.6 1298.2 415.4 1300.1 413.1 1302.1 410.8 1304 408.5 1305.9 406.2 1307.8 403.9 1309.8 401.6 1311.7 399.3 1313.7 397 1315.7 394.8 1317.7 392.5 1319.7 390.4 1321.8 388.2 1324 386.2 1326.2 384.1 1328.5 382.2 1330.9 380.4 1333.3 378.7 1335.9 377.2 1338.6 376 1341.5 375 1344.4 374.3 1347.3 373.8 1350.3 373.5 1353.3 373.2 1356.3 373 1359.3 373.1 1362.2 373.4 1365.2 374 1367.9 375 1370.6 376.4 1373.2 377.9 1375.7 379.6 1378.1 381.3 1380.6 383 1383 384.8 1385.4 386.7 1387.6 388.6 1389.9 390.6 1392 392.7 1394.1 394.8 1396.2 397 1398.2 399.2 1400.2 401.5 1402.1 403.8 1404.1 406.1 1406 408.4 1407.9 410.7 1409.8 413 1411.8 415.3 1413.7 417.6 1415.6 419.9 1417.4 422.3 1419.2 424.7 1421 427.1 1422.7 429.6 1424.4 432 1426.3 434.4 1428.1 436.7 1430 439.1 1431.7 441.6 1433.4 444.1 1435 446.6 1436.6 449.1 1438.2 451.7 1439.8 454.2 1441.5 456.7 1443.1 459.2 1444.8 461.7 1446.5 464.2 1448.1 466.7 1449.8 469.2 1451.4 471.7 1453.1 474.2 1454.8 476.7 1456.4 479.2 1458.1 481.7 1459.8 484.1 1461.6 486.6 1463.4 489 1465.3 491.3 1467.3 493.5 1469.4 495.6 1471.6 497.7 1473.7 499.8 1475.9 501.9 1478 504 1480.1 506.1 1482.3 508.2 1484.5 510.3 1486.7 512.3 1488.8 514.4 1491 516.4 1493.3 518.4 1495.5 520.4 1497.8 522.3 1500.2 524.2 1502.6 525.9 1505.1 527.6 1507.6 529.2 1510.1 530.9 1512.6 532.5 1515.1 534.2 1517.6 535.9 1520.1 537.6 1522.6 539.2 1525.2 540.7 1527.9 542 1530.6 543.4 1533.3 544.7 1535.9 546.2 1538.5 547.6 1541.2 549 1543.9 550.3 1546.6 551.5 1549.4 552.7 1552.1 553.9 1554.9 555 1557.7 556.1 1560.5 557.1 1563.3 558.1 1566.2 559.1 1569 560 1571.9 560.9 1574.8 561.7 1577.7 562.5 1580.6 563.3 1583.5 564 1586.4 564.6 1589.4 565.3 1592.3 565.9 1595.2 566.5 1598.2 567 1601.1 567.6 1604.1 568.1 1607 568.7 1610 569.2 1613 569.7 1615.9 570.2 1618.9 570.7 1621.8 571.2 1624.8 571.7 1627.8 572.2 1630.7 572.7 1633.7 573.3 1636.6 573.8 1639.6 574.4 1642.5 574.9 1645.5 575.5 1648.4 576.1 1651.3 576.7 1654.3 577.3 1657.2 577.9 1660.1 578.5 1663.1 579.2 1666 579.9 1668.9 580.6 1671.8 581.3 1674.7 582 1677.6 582.8 1680.6 583.5 1682.5 584"/>
<path stroke="#82288e" d="M984.5 110L984.5 113 984.5 116 984.5 119 984.5 122 984.5 125 984.5 128 984.5 131 984.5 134 984.5 137 984.5 140 984.5 143 984.5 146 984.5 149 984.5 152 984.6 155 984.6 158 984.6 161 984.6 164 984.6 167 984.6 170 984.6 173 984.7 176 984.7 179 984.7 182 984.7 185 984.8 188 984.8 191 984.9 194 984.9 197 985 200 985.1 203 985.2 206 985.3 209 985.4 212 985.6 215 985.7 218 985.9 221 986.1 224 986.3 227 986.5 230 986.7 233 987 236 987.3 238.9 987.6 241.9 987.9 244.9 988.3 247.9 988.9 250.8 989.8 253.6 991.1 256.2 992.6 258.8 994 261.4 995.6 263.6 997.9 264.9 1000.6 265.5 1003.6 265.6 1006.6 265.6 1009.6 265.7 1012.6 265.7 1015.6 265.9 1018.6 266.2 1021.5 266.8 1024.2 267.8 1026.9 269.2 1029.4 270.8 1031.9 272.5 1034.2 274.3 1036.3 276.4 1038.1 278.8 1039.6 281.3 1041 284 1042.3 286.7 1043.6 289.4 1044.9 292.1 1046.2 294.8 1047.6 297.5 1049 300.1 1050.4 302.8 1051.6 305.5 1052.8 308.3 1053.8 311.1 1054.8 313.9 1055.8 316.8 1056.7 319.6 1057.6 322.5 1058.5 325.4 1059.4 328.2 1060.4 331.1 1061.3 333.9 1062.3 336.8 1063.2 339.6 1064.2 342.5 1065.1 345.3 1066.1 348.2 1067 351 1068 353.8 1068.9 356.7 1069.9 359.5 1070.8 362.4 1071.8 365.2 1072.7 368.1 1073.7 370.9 1074.6 373.8 1075.5 376.6 1076.3 379.5 1077.2 382.4 1078 385.3 1078.8 388.2 1079.6 391.1 1080.4 393.9 1081.3 396.8 1082.4 399.6 1083.7 402.3 1085.2 404.9 1086.7 407.5 1088.3 410 1090.1 412.4 1092 414.6 1094.3 416.2 1096.9 416.7 1099.6 416 1102.1 414.6 1104.5 412.8 1106.7 410.8 1108.9 408.7 1110.9 406.5 1113.1 404.4 1115.2 402.3 1117.5 400.3 1119.7 398.4 1122.1 396.5 1124.5 394.8 1127.1 393.5 1129.9 392.9 1132.7 393.3 1135.4 394.5 1137.9 396.1 1140.3 397.8 1142.6 399.7 1144.8 401.8 1146.9 403.9 1148.9 406.2 1150.7 408.6 1152.5 411 1154.1 413.5 1155.7 416 1157.4 418.5 1159 421 1160.8 423.5 1162.5 425.9 1164.3 428.3 1166.2 430.6 1168.2 432.9 1170.2 435.1 1172.4 437.1 1174.8 439 1177.2 440.8 1179.7 442.5 1182.1 444.2 1184.6 445.9 1187.1 447.5 1189.7 448.9 1192.5 450.1 1195.3 451 1198.2 451.6 1201.2 451.9 1204.2 451.9 1207.2 451.6 1210.1 451.1 1213 450.2 1215.8 449.2 1218.5 448 1221.2 446.7 1223.9 445.3 1226.5 443.8 1229.1 442.3 1231.6 440.7 1234.2 439.1 1236.7 437.5 1239.2 435.8 1241.6 434.1 1244.1 432.3 1246.5 430.5 1248.8 428.7 1251.2 426.8 1253.5 424.9 1255.8 423 1258 421 1260.3 419.1 1262.6 417.1 1264.9 415.1 1267.1 413.1 1269.3 411.1 1271.6 409.1 1273.8 407.1 1276 405.1 1278.2 403.1 1280.4 401 1282.6 399 1284.8 397 1287 394.9 1289.3 392.9 1291.5 390.9 1293.8 389 1296.1 387 1298.4 385.1 1300.7 383.2 1303 381.3 1305.3 379.4 1307.6 377.4 1309.9 375.5 1312.2 373.6 1314.5 371.7 1316.8 369.8 1319.1 367.8 1321.5 365.9 1323.8 364 1326.1 362.1 1328.4 360.2 1330.7 358.3 1333 356.4 1335.4 354.5 1337.8 352.7 1340.2 351 1342.8 349.4 1345.5 348.1 1348.3 347.2 1351.2 346.6 1354.2 346.5 1357.1 346.4 1360.1 346.3 1363.1 346.4 1366 346.9 1368.8 347.8 1371.5 349.2 1374 350.9 1376.4 352.6 1378.8 354.5 1381.2 356.3 1383.5 358.1 1385.9 360 1388.2 361.9 1390.4 363.9 1392.5 366 1394.6 368.2 1396.7 370.3 1398.9 372.4 1401 374.5 1403.1 376.6 1405.2 378.8 1407.3 381 1409.3 383.2 1411.2 385.5 1413.1 387.8 1415 390.1 1416.9 392.4 1418.9 394.7 1420.8 397 1422.7 399.3 1424.6 401.7 1426.5 404 1428.3 406.4 1430 408.8 1431.8 411.3 1433.4 413.8 1434.9 416.4 1436.2 419.1 1437.5 421.8 1438.7 424.5 1440.1 427.2 1441.6 429.8 1443.3 432.3 1445 434.7 1446.7 437.2 1448.2 439.8 1449.7 442.4 1451.2 445 1452.6 447.6 1454.1 450.2 1455.7 452.8 1457.3 455.3 1459 457.8 1460.8 460.2 1462.6 462.6 1464.4 465 1466.4 467.3 1468.3 469.5 1470.2 471.8 1472.1 474.2 1474 476.5 1475.9 478.8 1477.9 481.1 1479.8 483.4 1481.9 485.6 1483.9 487.7 1486.1 489.9 1488.2 491.9 1490.4 494 1492.6 496 1494.9 498 1497.2 499.9 1499.5 501.8 1501.9 503.6 1504.4 505.3 1506.9 507 1509.4 508.6 1511.9 510.3 1514.4 511.9 1516.9 513.6 1519.4 515.2 1521.9 516.9 1524.4 518.6 1526.9 520.3 1529.3 522 1531.8 523.6 1534.4 525.2 1537 526.6 1539.7 527.9 1542.5 529.1 1545.2 530.4 1547.9 531.7 1550.6 532.9 1553.4 534.2 1556.1 535.4 1558.9 536.5 1561.7 537.6 1564.5 538.7 1567.3 539.8 1570.1 540.8 1572.9 541.8 1575.8 542.8 1578.6 543.7 1581.5 544.7 1584.3 545.6 1587.2 546.5 1590 547.4 1592.9 548.3 1595.8 549.1 1598.7 550 1601.5 550.8 1604.4 551.6 1607.3 552.4 1610.2 553.2 1613.1 554 1616 554.8 1618.9 555.5 1621.8 556.2 1624.7 556.9 1627.7 557.6 1630.6 558.3 1633.5 559 1636.4 559.6 1639.4 560.2 1642.3 560.8 1645.3 561.4 1648.2 561.9 1651.2 562.5 1654.1 563.1 1657 563.7 1660 564.3 1662.9 564.9 1665.9 565.5 1668.8 566.1 1671.7 566.7 1674.7 567.3 1677.6 568 1680.5 568.6 1682.5 569"/>
<path stroke="#22227e" d="M984 60L984 63 984.1 66 984.1 69 984.2 72 984.2 75 984.3 78 984.4 81 984.5 84 984.6 87 984.7 90 984.8 93 984.9 96 985.1 99 985.3 102 985.5 105 985.9 107.7 986.8 109.5 988 110.6 988.9 112.3 989.4 114.8 989.5 117.8 989.6 120.8 989.6 123.8 989.6 126.8 989.6 129.8 989.6 132.8 989.5 135.8 989.5 138.8 989.5 141.8 989.4 144.8 989.4 147.8 989.3 150.8 989.3 153.8 989.3 156.8 989.2 159.8 989.2 162.8 989.2 165.8 989.2 168.8 989.2 171.8 989.2 174.8 989.3 177.8 989.3 180.8 989.5 183.8 989.8 186.8 990.3 189.7 991.2 192.4 992.8 194.7 994.8 196.8 996.7 198.8 998.9 200.4 1001.5 201 1004.4 200.8 1007.3 200.3 1010.3 199.8 1013.2 199.3 1016.2 199 1019.2 199.2 1022 199.9 1024.7 201.1 1027.1 202.8 1029.3 204.9 1031.2 207.2 1033 209.6 1034.6 212.1 1036.2 214.7 1037.6 217.3 1039 219.9 1040.3 222.6 1041.6 225.3 1042.9 228.1 1044.1 230.8 1045.4 233.5 1046.6 236.3 1047.7 239.1 1048.7 241.9 1049.7 244.7 1050.5 247.6 1051.3 250.5 1052.1 253.4 1052.9 256.3 1053.7 259.2 1054.5 262.1 1055.3 265 1056.1 267.9 1057 270.8 1057.8 273.6 1058.7 276.5 1059.5 279.4 1060.3 282.3 1061.1 285.2 1061.7 288.1 1062.3 291.1 1062.9 294 1063.5 296.9 1064.3 299.8 1065.2 302.7 1066.3 305.5 1067.4 308.3 1068.5 311.1 1069.6 313.9 1070.5 316.7 1071.4 319.6 1072.3 322.4 1073.2 325.3 1074 328.2 1074.9 331.1 1075.7 334 1076.6 336.8 1077.4 339.7 1078.3 342.6 1079.1 345.5 1080 348.4 1080.8 351.2 1081.6 354.1 1082.5 357 1083.4 359.9 1084.3 362.7 1085.2 365.6 1086.2 368.4 1087.2 371.3 1088.2 374.1 1089.3 376.9 1090.3 379.7 1091.5 382.5 1092.6 385.2 1093.9 387.9 1095.4 390.2 1097.5 391.3 1099.8 390.7 1102 389 1104.1 386.8 1106.1 384.6 1108 382.3 1109.9 380 1111.7 377.6 1113.5 375.2 1115.3 372.8 1117.2 370.5 1119.2 368.3 1121.4 366.2 1123.7 364.3 1126.2 362.7 1128.9 361.7 1131.7 361.6 1134.6 362.2 1137.3 363.4 1139.7 365 1142 367 1144 369.1 1145.9 371.5 1147.7 373.9 1149.3 376.5 1150.8 379 1152.2 381.7 1153.5 384.4 1154.8 387.1 1156.1 389.8 1157.4 392.5 1158.8 395.2 1160.3 397.8 1161.9 400.3 1163.7 402.7 1165.6 405 1167.6 407.3 1169.6 409.5 1171.6 411.7 1173.7 413.9 1175.8 416 1178 418.1 1180.2 420.1 1182.5 422 1184.8 423.9 1187.2 425.7 1189.7 427.4 1192.3 428.8 1195.1 430 1197.9 430.9 1200.8 431.5 1203.8 431.7 1206.8 431.6 1209.7 431.1 1212.6 430.3 1215.4 429.4 1218.2 428.2 1220.9 427 1223.6 425.6 1226.2 424.1 1228.7 422.5 1231.2 420.8 1233.6 419 1236 417.1 1238.3 415.2 1240.6 413.3 1242.8 411.3 1245 409.2 1247.2 407.1 1249.3 405 1251.4 402.8 1253.4 400.7 1255.5 398.5 1257.5 396.3 1259.6 394.1 1261.8 392 1264 390 1266.3 388.1 1268.6 386.1 1270.9 384.2 1273.2 382.3 1275.5 380.4 1277.8 378.5 1280.2 376.6 1282.5 374.7 1284.8 372.8 1287.1 370.8 1289.4 368.9 1291.7 367 1294 365.1 1296.3 363.2 1298.6 361.2 1300.9 359.3 1303.2 357.4 1305.5 355.5 1307.8 353.5 1310.1 351.6 1312.4 349.7 1314.7 347.8 1317 345.8 1319.3 343.9 1321.6 341.9 1323.9 340 1326.2 338.1 1328.6 336.2 1330.9 334.3 1333.3 332.5 1335.7 330.7 1338.1 328.9 1340.6 327.2 1343.1 325.6 1345.7 324.2 1348.5 323.2 1351.4 322.5 1354.4 322.2 1357.4 322.1 1360.4 322.2 1363.4 322.4 1366.3 322.7 1369.1 323.4 1371.7 324.8 1374.1 326.5 1376.5 328.4 1378.7 330.4 1380.9 332.4 1383 334.5 1385.1 336.7 1387.2 338.9 1389.3 341 1391.4 343.2 1393.5 345.3 1395.6 347.4 1397.7 349.6 1399.7 351.9 1401.6 354.1 1403.5 356.5 1405.5 358.8 1407.4 361.1 1409.3 363.4 1411.2 365.7 1413.2 368 1415.1 370.3 1417 372.6 1419 374.9 1420.9 377.1 1422.8 379.4 1424.7 381.8 1426.5 384.2 1428.3 386.6 1430 389.1 1431.8 391.5 1433.5 394 1435.2 396.4 1437 398.8 1438.8 401.2 1440.6 403.7 1442.2 406.2 1443.8 408.7 1445.2 411.4 1446.4 414.1 1447.7 416.8 1449 419.5 1450.4 422.2 1451.9 424.8 1453.4 427.4 1455 429.9 1456.7 432.4 1458.4 434.9 1460 437.4 1461.7 439.9 1463.3 442.4 1464.9 444.9 1466.6 447.4 1468.4 449.9 1470.3 452.2 1472.3 454.3 1474.5 456.4 1476.7 458.5 1478.8 460.6 1480.9 462.7 1483 464.8 1485.2 467 1487.3 469.1 1489.4 471.2 1491.5 473.4 1493.6 475.5 1495.7 477.6 1497.9 479.7 1500 481.8 1502.1 484 1504.3 486.1 1506.4 488.2 1508.5 490.4 1510.6 492.5 1512.8 494.5 1515.1 496.5 1517.4 498.4 1519.8 500.2 1522.2 502 1524.7 503.6 1527.3 505.1 1529.9 506.7 1532.5 508.2 1535 509.8 1537.6 511.3 1540.3 512.7 1542.9 514.1 1545.6 515.4 1548.3 516.7 1551 518 1553.8 519.3 1556.5 520.5 1559.3 521.7 1562 522.8 1564.8 523.9 1567.7 524.9 1570.5 525.9 1573.3 526.9 1576.2 527.9 1579 528.8 1581.9 529.8 1584.7 530.7 1587.6 531.6 1590.5 532.5 1593.3 533.3 1596.2 534.2 1599.1 535 1602 535.9 1604.9 536.7 1607.7 537.6 1610.6 538.4 1613.5 539.3 1616.4 540.2 1619.2 541 1622.1 541.9 1625 542.7 1627.9 543.6 1630.7 544.5 1633.6 545.3 1636.5 546.2 1639.4 547.1 1642.2 547.9 1645.1 548.8 1648 549.6 1650.9 550.5 1653.7 551.4 1656.6 552.2 1659.5 553.1 1662.4 554 1665.2 554.8 1668.1 555.7 1671 556.5 1673.9 557.4 1676.7 558.3 1679.6 559.1 1682.5 560"/>
<path stroke="#f02a2a" d="M989 60L989 63 989 66 988.9 69 988.9 72 988.9 75 988.9 78 988.9 81 988.9 84 988.9 87 988.9 90 988.9 93 989 96 989.2 99 989.5 102 990 104.9 990.6 107.9 990.9 110.8 991.1 113.8 991.1 116.8 991.1 119.8 991.4 122.8 991.9 125.7 992.9 128.5 994 131.3 995.1 134 995.9 136.9 996.5 139.9 997.2 142.8 998.1 145.6 999.5 148.1 1001.6 150 1004.2 151 1007.1 151.4 1010.1 151.4 1013.1 151.5 1016 151.6 1019 152.1 1021.9 152.8 1024.7 153.8 1027.4 155 1029.8 156.7 1031.9 158.8 1033.8 161.1 1035.7 163.4 1037.5 165.8 1039.2 168.3 1040.8 170.8 1042.4 173.4 1043.8 176 1045.1 178.7 1046.4 181.4 1047.6 184.2 1048.7 187 1049.7 189.8 1050.6 192.7 1051.4 195.6 1052.2 198.4 1053 201.3 1053.9 204.2 1054.8 207.1 1055.8 209.9 1056.8 212.7 1057.8 215.5 1058.8 218.4 1059.8 221.2 1060.8 224 1061.8 226.9 1062.7 229.7 1063.6 232.6 1064.4 235.5 1065.3 238.3 1066.1 241.2 1066.9 244.1 1067.7 247 1068.5 249.9 1069.3 252.8 1070.2 255.7 1071 258.5 1071.8 261.4 1072.7 264.3 1073.5 267.2 1074.3 270.1 1075.1 273 1075.9 275.9 1076.7 278.7 1077.6 281.6 1078.4 284.5 1079.2 287.4 1080 290.3 1080.8 293.2 1081.6 296.1 1082.5 298.9 1083.5 301.7 1084.8 304.4 1086.2 307.1 1087.7 309.7 1089.3 312.2 1091 314.6 1093 316.7 1095.3 317.7 1097.7 317.3 1100 315.7 1102 313.5 1104 311.3 1105.9 309 1107.8 306.6 1109.6 304.3 1111.5 301.9 1113.3 299.6 1115.3 297.3 1117.3 295 1119.3 292.9 1121.5 290.8 1123.7 288.7 1126 287.1 1128.5 286.3 1131 286.9 1133.4 288.4 1135.6 290.4 1137.7 292.5 1139.7 294.7 1141.6 297.1 1143.4 299.5 1145.1 301.9 1146.7 304.5 1148.3 307 1149.7 309.6 1151.1 312.3 1152.4 315 1153.6 317.8 1154.8 320.5 1156 323.3 1157.2 326 1158.3 328.8 1159.6 331.5 1160.8 334.2 1162.1 337 1163.4 339.7 1164.7 342.4 1166.1 345 1167.4 347.7 1168.8 350.4 1170.3 353 1171.8 355.6 1173.4 358.1 1175 360.6 1176.8 363.1 1178.5 365.5 1180.4 367.9 1182.4 370.1 1184.5 372.3 1186.6 374.3 1188.8 376.4 1191 378.5 1193.1 380.6 1195.3 382.6 1197.5 384.6 1199.9 386.2 1202.6 387 1205.4 387 1208.3 386.4 1211.1 385.3 1213.6 383.8 1216.1 382.1 1218.5 380.3 1220.8 378.4 1223.1 376.5 1225.3 374.5 1227.5 372.4 1229.6 370.3 1231.7 368.1 1233.7 365.9 1235.7 363.6 1237.6 361.3 1239.5 359 1241.3 356.6 1243.2 354.3 1245 351.9 1246.9 349.6 1248.8 347.3 1250.7 344.9 1252.6 342.6 1254.4 340.2 1256.3 337.9 1258 335.4 1259.7 333 1261.4 330.5 1263.1 328 1264.7 325.5 1266.4 323 1268 320.5 1269.7 318 1271.4 315.5 1273 313 1274.7 310.5 1276.4 308 1278 305.5 1279.7 303 1281.4 300.5 1283 298 1284.7 295.5 1286.4 293 1288 290.5 1289.7 288 1291.3 285.5 1293 283 1294.7 280.5 1296.3 278 1298 275.6 1299.7 273.1 1301.3 270.6 1303 268.1 1304.6 265.6 1306.3 263.1 1308 260.6 1309.6 258.1 1311.3 255.6 1312.9 253.1 1314.6 250.5 1316.2 248 1317.8 245.5 1319.4 243 1321.1 240.5 1322.8 238 1324.5 235.6 1326.4 233.2 1328.4 231 1330.5 228.8 1332.6 226.8 1334.8 224.7 1337 222.7 1339.3 220.7 1341.6 218.7 1344 217 1346.5 215.4 1349.1 214 1351.9 212.9 1354.8 212.3 1357.7 212.1 1360.7 212.1 1363.7 212.4 1366.6 213 1369.2 214.3 1371.5 216 1373.7 218.1 1375.8 220.2 1377.8 222.5 1379.8 224.7 1381.6 227.1 1383.4 229.5 1385.1 231.9 1386.8 234.5 1388.3 237 1389.8 239.6 1391.4 242.2 1392.9 244.8 1394.4 247.4 1396 249.9 1397.5 252.5 1399.1 255.1 1400.6 257.7 1402 260.3 1403.3 263 1404.7 265.7 1406 268.3 1407.5 270.9 1409.1 273.5 1410.6 276.1 1412 278.7 1413.3 281.5 1414.5 284.2 1415.6 287 1416.8 289.7 1418 292.5 1419.1 295.3 1420.3 298 1421.5 300.8 1422.7 303.5 1423.8 306.3 1425 309.1 1426.2 311.8 1427.4 314.6 1428.6 317.3 1429.8 320.1 1430.9 322.8 1432.1 325.6 1433.3 328.4 1434.4 331.1 1435.6 333.9 1436.7 336.7 1437.9 339.5 1439 342.2 1440.1 345 1441.2 347.8 1442.2 350.6 1443.3 353.4 1444.3 356.3 1445.3 359.1 1446.2 361.9 1447.2 364.8 1448.2 367.6 1449.2 370.4 1450.4 373.2 1451.5 376 1452.7 378.7 1453.9 381.5 1455.1 384.2 1456.3 387 1457.5 389.7 1458.7 392.5 1459.9 395.2 1461 398 1462.1 400.8 1463.3 403.6 1464.5 406.3 1465.9 409 1467.4 411.5 1469 414.1 1470.6 416.6 1472.2 419.2 1473.6 421.8 1475 424.5 1476.3 427.2 1477.6 429.9 1479 432.5 1480.5 435.1 1481.9 437.8 1483.5 440.3 1485 442.9 1486.6 445.5 1488.2 448 1489.8 450.5 1491.5 453 1493.3 455.4 1495.2 457.7 1497.1 460 1499.1 462.3 1501 464.6 1502.9 466.9 1504.8 469.2 1506.7 471.5 1508.7 473.8 1510.7 476.1 1512.7 478.3 1514.8 480.4 1517 482.5 1519.1 484.6 1521.2 486.7 1523.3 488.9 1525.4 491 1527.6 493.1 1529.8 495 1532.3 496.8 1534.8 498.5 1537.3 500 1539.9 501.6 1542.4 503.2 1545 504.7 1547.6 506.3 1550.2 507.8 1552.7 509.3 1555.3 510.8 1557.9 512.3 1560.5 513.8 1563.2 515.2 1565.8 516.7 1568.5 518 1571.2 519.4 1573.9 520.7 1576.6 521.9 1579.3 523.2 1582 524.5 1584.7 525.7 1587.5 526.9 1590.3 528.1 1593 529.2 1595.9 530.3 1598.7 531.2 1601.5 532.2 1604.4 533 1607.3 533.9 1610.2 534.7 1613.1 535.5 1615.9 536.3 1618.8 537.2 1621.7 538 1624.6 538.9 1627.4 539.8 1630.3 540.6 1633.2 541.5 1636.1 542.4 1638.9 543.2 1641.8 544.1 1644.7 544.9 1647.6 545.7 1650.5 546.4 1653.4 547.2 1656.3 547.9 1659.2 548.6 1662.2 549.3 1665.1 550 1668 550.8 1670.9 551.5 1673.8 552.3 1676.7 553 1679.6 553.7 1682.5 554.5"/>
</g>
<rect x="983.6" y="81" width="5" height="28" fill="#2a1c36"/>
<rect x="989.3" y="112" width="3" height="13" fill="#9a1c2c"/>
<g stroke="#1a1a1a" stroke-width="2.2" fill="none">
<path d="M1128.5 289 V591"/>
<path d="M1120.5 579 L1128.5 591 L1136.5 579"/>
<path d="M1356.3 212 V567.5"/>
<path d="M1348 555.5 L1356.3 567.5 L1364.5 555.5"/>
</g>
<g font-weight="bold" fill="#111">
<text x="1104.8" y="281.8" font-size="35" textLength="56.5" lengthAdjust="spacingAndGlyphs">351</text>
<text x="1324.2" y="199.2" font-size="34.5" textLength="60.5" lengthAdjust="spacingAndGlyphs">496</text>
</g>
<rect x="1507.6" y="53" width="253" height="332.2" fill="#fff" stroke="#1a1a1a" stroke-width="2.4"/>
<g stroke-width="2.6">
<path d="M1508 77.6 H1586.5" stroke="#1c1c1c"/>
<path d="M1508 119 H1586.5" stroke="#963232"/>
<path d="M1508 160.4 H1586.5" stroke="#1a1af0"/>
<path d="M1508 202.6 H1586.5" stroke="#1f8a8a"/>
<path d="M1508 244 H1586.5" stroke="#e040e0"/>
<path d="M1508 285.5 H1586.5" stroke="#82288e"/>
<path d="M1508 324.8 H1586.5" stroke="#22227e"/>
<path d="M1508 366.3 H1586.5" stroke="#f02a2a"/>
</g>
<g font-size="23" fill="#222" stroke="#222" stroke-width="0.5">
<text y="88.6"><tspan x="1597" textLength="39" lengthAdjust="spacing">1.5</tspan> <tspan x="1642.8" textLength="22.5" lengthAdjust="spacingAndGlyphs">m</tspan><tspan x="1669.5">in</tspan></text>
<text y="130"><tspan x="1597" textLength="39" lengthAdjust="spacing">2.0</tspan> <tspan x="1642.8" textLength="22.5" lengthAdjust="spacingAndGlyphs">m</tspan><tspan x="1669.5">in</tspan></text>
<text y="171.4"><tspan x="1597" textLength="39" lengthAdjust="spacing">3.5</tspan> <tspan x="1642.8" textLength="22.5" lengthAdjust="spacingAndGlyphs">m</tspan><tspan x="1669.5">in</tspan></text>
<text y="213.6"><tspan x="1597" textLength="39" lengthAdjust="spacing">4.0</tspan> <tspan x="1642.8" textLength="22.5" lengthAdjust="spacingAndGlyphs">m</tspan><tspan x="1669.5">in</tspan></text>
<text y="255"><tspan x="1597" textLength="39" lengthAdjust="spacing">5.5</tspan> <tspan x="1642.8" textLength="22.5" lengthAdjust="spacingAndGlyphs">m</tspan><tspan x="1669.5">in</tspan></text>
<text y="296.5"><tspan x="1597" textLength="39" lengthAdjust="spacing">6.5</tspan> <tspan x="1642.8" textLength="22.5" lengthAdjust="spacingAndGlyphs">m</tspan><tspan x="1669.5">in</tspan></text>
<text y="335.8"><tspan x="1597" textLength="39" lengthAdjust="spacing">7.0</tspan> <tspan x="1642.8" textLength="22.5" lengthAdjust="spacingAndGlyphs">m</tspan><tspan x="1669.5">in</tspan></text>
</g>
<text x="1602.3" y="369.2" font-size="20.2" fill="#1a1a1a" stroke="#1a1a1a" stroke-width="0.45" textLength="152.5" lengthAdjust="spacingAndGlyphs">Malachite green</text>
</svg></body></html>
